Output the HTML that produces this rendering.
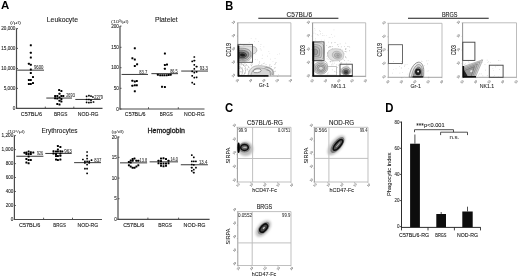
<!DOCTYPE html>
<html><head><meta charset="utf-8"><style>
html,body{margin:0;padding:0;background:#fff;width:520px;height:278px;overflow:hidden}
svg{display:block;font-family:"Liberation Sans", sans-serif;filter:grayscale(1)}
</style></head><body>
<svg width="520" height="278" viewBox="0 0 520 278">
<rect width="520" height="278" fill="#fff"/>
<defs>
<filter id="b0_35" x="-20%" y="-20%" width="140%" height="140%"><feGaussianBlur stdDeviation="0.35"/></filter>
<filter id="b0_4" x="-20%" y="-20%" width="140%" height="140%"><feGaussianBlur stdDeviation="0.4"/></filter>
<filter id="b0_45" x="-20%" y="-20%" width="140%" height="140%"><feGaussianBlur stdDeviation="0.45"/></filter>
<filter id="b0_7" x="-30%" y="-30%" width="160%" height="160%"><feGaussianBlur stdDeviation="0.7"/></filter>
<filter id="b0_6" x="-30%" y="-30%" width="160%" height="160%"><feGaussianBlur stdDeviation="0.6"/></filter>
<filter id="b0_9" x="-40%" y="-40%" width="180%" height="180%"><feGaussianBlur stdDeviation="0.9"/></filter>
<filter id="b1_0" x="-40%" y="-40%" width="180%" height="180%"><feGaussianBlur stdDeviation="1.0"/></filter>
</defs>
<text x="0.90" y="9.30" font-size="11.8" textLength="8.30" lengthAdjust="spacingAndGlyphs" font-weight="bold" fill="#000">A</text>
<text x="225.20" y="9.50" font-size="12.0" textLength="8.00" lengthAdjust="spacingAndGlyphs" font-weight="bold" fill="#000">B</text>
<text x="225.10" y="112.40" font-size="12.0" textLength="8.20" lengthAdjust="spacingAndGlyphs" font-weight="bold" fill="#000">C</text>
<text x="385.20" y="112.40" font-size="12.0" textLength="8.20" lengthAdjust="spacingAndGlyphs" font-weight="bold" fill="#000">D</text>
<line x1="16.50" y1="28.40" x2="16.50" y2="108.90" stroke="#4a4a4a" stroke-width="1.2" />
<line x1="16.00" y1="108.40" x2="102.50" y2="108.40" stroke="#4a4a4a" stroke-width="1.2" />
<line x1="45.30" y1="106.60" x2="45.30" y2="108.40" stroke="#4a4a4a" stroke-width="0.9" />
<line x1="73.80" y1="106.60" x2="73.80" y2="108.40" stroke="#4a4a4a" stroke-width="0.9" />
<line x1="16.50" y1="28.60" x2="18.00" y2="28.60" stroke="#4a4a4a" stroke-width="0.9" />
<text x="15.40" y="30.20" font-size="4.6" stroke="#2a2a2a" stroke-width="0.1" text-anchor="end" textLength="14.10" lengthAdjust="spacingAndGlyphs" fill="#2a2a2a">20,000</text>
<line x1="16.50" y1="48.40" x2="18.00" y2="48.40" stroke="#4a4a4a" stroke-width="0.9" />
<text x="15.40" y="50.00" font-size="4.6" stroke="#2a2a2a" stroke-width="0.1" text-anchor="end" textLength="14.10" lengthAdjust="spacingAndGlyphs" fill="#2a2a2a">15,000</text>
<line x1="16.50" y1="68.50" x2="18.00" y2="68.50" stroke="#4a4a4a" stroke-width="0.9" />
<text x="15.40" y="70.10" font-size="4.6" stroke="#2a2a2a" stroke-width="0.1" text-anchor="end" textLength="14.10" lengthAdjust="spacingAndGlyphs" fill="#2a2a2a">10,000</text>
<line x1="16.50" y1="88.40" x2="18.00" y2="88.40" stroke="#4a4a4a" stroke-width="0.9" />
<text x="15.40" y="90.00" font-size="4.6" stroke="#2a2a2a" stroke-width="0.1" text-anchor="end" textLength="11.75" lengthAdjust="spacingAndGlyphs" fill="#2a2a2a">5,000</text>
<line x1="16.50" y1="108.40" x2="18.00" y2="108.40" stroke="#4a4a4a" stroke-width="0.9" />
<text x="15.40" y="110.00" font-size="4.6" stroke="#2a2a2a" stroke-width="0.1" text-anchor="end" fill="#2a2a2a">0</text>
<text x="10.00" y="23.70" font-size="4.4" stroke="#444" stroke-width="0.05" textLength="11.00" lengthAdjust="spacingAndGlyphs" fill="#444">(/μl)</text>
<text x="46.80" y="22.00" font-size="7.2" stroke="#1a1a1a" stroke-width="0.1" textLength="31.20" lengthAdjust="spacingAndGlyphs" fill="#1a1a1a">Leukocyte</text>
<text x="20.80" y="115.90" font-size="6.1" stroke="#1a1a1a" stroke-width="0.12" textLength="21.20" lengthAdjust="spacingAndGlyphs" fill="#1a1a1a">C57BL/6</text>
<text x="53.90" y="115.90" font-size="6.1" stroke="#1a1a1a" stroke-width="0.12" textLength="13.40" lengthAdjust="spacingAndGlyphs" fill="#1a1a1a">BRGS</text>
<text x="77.80" y="115.90" font-size="6.1" stroke="#1a1a1a" stroke-width="0.12" textLength="20.80" lengthAdjust="spacingAndGlyphs" fill="#1a1a1a">NOD-RG</text>
<line x1="17.20" y1="70.15" x2="44.00" y2="70.15" stroke="#151515" stroke-width="0.85" />
<text x="33.90" y="69.30" font-size="4.6" stroke="#333" stroke-width="0.08" textLength="9.50" lengthAdjust="spacingAndGlyphs" fill="#333">9600</text>
<line x1="46.30" y1="98.05" x2="72.00" y2="98.05" stroke="#151515" stroke-width="0.85" />
<text x="66.20" y="97.20" font-size="4.6" stroke="#333" stroke-width="0.08" textLength="8.60" lengthAdjust="spacingAndGlyphs" fill="#333">2693</text>
<line x1="75.30" y1="99.45" x2="100.80" y2="99.45" stroke="#151515" stroke-width="0.85" />
<text x="94.20" y="98.60" font-size="4.6" stroke="#333" stroke-width="0.08" textLength="8.80" lengthAdjust="spacingAndGlyphs" fill="#333">2279</text>
<rect x="29.80" y="44.30" width="2.00" height="2.00" rx="0.50" fill="#000"/>
<rect x="29.80" y="51.80" width="2.00" height="2.00" rx="0.50" fill="#000"/>
<rect x="29.80" y="56.60" width="2.00" height="2.00" rx="0.50" fill="#000"/>
<rect x="27.90" y="62.80" width="2.00" height="2.00" rx="0.50" fill="#000"/>
<rect x="29.80" y="63.80" width="2.00" height="2.00" rx="0.50" fill="#000"/>
<rect x="29.80" y="68.60" width="2.00" height="2.00" rx="0.50" fill="#000"/>
<rect x="29.80" y="72.10" width="2.00" height="2.00" rx="0.50" fill="#000"/>
<rect x="32.00" y="76.10" width="2.00" height="2.00" rx="0.50" fill="#000"/>
<rect x="27.90" y="78.90" width="2.00" height="2.00" rx="0.50" fill="#000"/>
<rect x="29.80" y="78.90" width="2.00" height="2.00" rx="0.50" fill="#000"/>
<rect x="27.90" y="82.90" width="2.00" height="2.00" rx="0.50" fill="#000"/>
<rect x="29.80" y="82.90" width="2.00" height="2.00" rx="0.50" fill="#000"/>
<rect x="32.00" y="82.10" width="2.00" height="2.00" rx="0.50" fill="#000"/>
<rect x="58.10" y="89.00" width="2.00" height="2.00" rx="0.50" fill="#000"/>
<rect x="60.40" y="90.00" width="2.00" height="2.00" rx="0.50" fill="#000"/>
<rect x="58.50" y="92.80" width="2.00" height="2.00" rx="0.50" fill="#000"/>
<rect x="54.10" y="95.10" width="2.00" height="2.00" rx="0.50" fill="#000"/>
<rect x="56.30" y="95.10" width="2.00" height="2.00" rx="0.50" fill="#000"/>
<rect x="60.40" y="95.10" width="2.00" height="2.00" rx="0.50" fill="#000"/>
<rect x="62.30" y="95.10" width="2.00" height="2.00" rx="0.50" fill="#000"/>
<rect x="54.10" y="97.20" width="2.00" height="2.00" rx="0.50" fill="#000"/>
<rect x="56.30" y="97.60" width="2.00" height="2.00" rx="0.50" fill="#000"/>
<rect x="58.50" y="96.60" width="2.00" height="2.00" rx="0.50" fill="#000"/>
<rect x="60.40" y="98.10" width="2.00" height="2.00" rx="0.50" fill="#000"/>
<rect x="58.50" y="99.70" width="2.00" height="2.00" rx="0.50" fill="#000"/>
<rect x="60.40" y="100.40" width="2.00" height="2.00" rx="0.50" fill="#000"/>
<rect x="56.30" y="102.90" width="2.00" height="2.00" rx="0.50" fill="#000"/>
<rect x="58.50" y="103.50" width="2.00" height="2.00" rx="0.50" fill="#000"/>
<rect x="85.75" y="95.45" width="1.70" height="1.70" rx="0.42" fill="#000"/>
<rect x="88.05" y="94.85" width="1.70" height="1.70" rx="0.42" fill="#000"/>
<rect x="90.15" y="95.25" width="1.70" height="1.70" rx="0.42" fill="#000"/>
<rect x="92.05" y="96.15" width="1.70" height="1.70" rx="0.42" fill="#000"/>
<rect x="85.75" y="98.65" width="1.70" height="1.70" rx="0.42" fill="#000"/>
<rect x="88.05" y="98.65" width="1.70" height="1.70" rx="0.42" fill="#000"/>
<rect x="90.15" y="99.25" width="1.70" height="1.70" rx="0.42" fill="#000"/>
<rect x="85.75" y="101.55" width="1.70" height="1.70" rx="0.42" fill="#000"/>
<rect x="88.05" y="101.75" width="1.70" height="1.70" rx="0.42" fill="#000"/>
<rect x="90.15" y="101.55" width="1.70" height="1.70" rx="0.42" fill="#000"/>
<rect x="92.65" y="101.15" width="1.70" height="1.70" rx="0.42" fill="#000"/>
<line x1="120.00" y1="25.90" x2="120.00" y2="109.50" stroke="#4a4a4a" stroke-width="1.2" />
<line x1="119.50" y1="109.00" x2="204.50" y2="109.00" stroke="#4a4a4a" stroke-width="1.2" />
<line x1="148.50" y1="107.20" x2="148.50" y2="109.00" stroke="#4a4a4a" stroke-width="0.9" />
<line x1="178.30" y1="107.20" x2="178.30" y2="109.00" stroke="#4a4a4a" stroke-width="0.9" />
<line x1="120.00" y1="26.10" x2="121.50" y2="26.10" stroke="#4a4a4a" stroke-width="0.9" />
<text x="118.90" y="27.70" font-size="4.6" stroke="#2a2a2a" stroke-width="0.1" text-anchor="end" fill="#2a2a2a">200</text>
<line x1="120.00" y1="47.30" x2="121.50" y2="47.30" stroke="#4a4a4a" stroke-width="0.9" />
<text x="118.90" y="48.90" font-size="4.6" stroke="#2a2a2a" stroke-width="0.1" text-anchor="end" fill="#2a2a2a">150</text>
<line x1="120.00" y1="67.70" x2="121.50" y2="67.70" stroke="#4a4a4a" stroke-width="0.9" />
<text x="118.90" y="69.30" font-size="4.6" stroke="#2a2a2a" stroke-width="0.1" text-anchor="end" fill="#2a2a2a">100</text>
<line x1="120.00" y1="88.30" x2="121.50" y2="88.30" stroke="#4a4a4a" stroke-width="0.9" />
<text x="118.90" y="89.90" font-size="4.6" stroke="#2a2a2a" stroke-width="0.1" text-anchor="end" fill="#2a2a2a">50</text>
<line x1="120.00" y1="109.00" x2="121.50" y2="109.00" stroke="#4a4a4a" stroke-width="0.9" />
<text x="118.90" y="110.60" font-size="4.6" stroke="#2a2a2a" stroke-width="0.1" text-anchor="end" fill="#2a2a2a">0</text>
<text x="111.10" y="22.80" font-size="4.4" stroke="#444" stroke-width="0.05" textLength="17.40" lengthAdjust="spacingAndGlyphs" fill="#444">(10³/μl)</text>
<text x="155.00" y="22.00" font-size="7.2" stroke="#1a1a1a" stroke-width="0.1" textLength="22.60" lengthAdjust="spacingAndGlyphs" fill="#1a1a1a">Platelet</text>
<text x="124.80" y="115.90" font-size="6.1" stroke="#1a1a1a" stroke-width="0.12" textLength="20.80" lengthAdjust="spacingAndGlyphs" fill="#1a1a1a">C57BL/6</text>
<text x="159.80" y="115.90" font-size="6.1" stroke="#1a1a1a" stroke-width="0.12" textLength="13.00" lengthAdjust="spacingAndGlyphs" fill="#1a1a1a">BRGS</text>
<text x="184.00" y="115.90" font-size="6.1" stroke="#1a1a1a" stroke-width="0.12" textLength="20.80" lengthAdjust="spacingAndGlyphs" fill="#1a1a1a">NOD-RG</text>
<line x1="121.60" y1="74.45" x2="148.00" y2="74.45" stroke="#151515" stroke-width="0.85" />
<text x="139.20" y="73.60" font-size="4.6" stroke="#333" stroke-width="0.08" textLength="8.00" lengthAdjust="spacingAndGlyphs" fill="#333">83.7</text>
<line x1="151.40" y1="73.65" x2="178.00" y2="73.65" stroke="#151515" stroke-width="0.85" />
<text x="170.20" y="72.80" font-size="4.6" stroke="#333" stroke-width="0.08" textLength="7.50" lengthAdjust="spacingAndGlyphs" fill="#333">86.5</text>
<line x1="181.20" y1="71.05" x2="208.00" y2="71.05" stroke="#151515" stroke-width="0.85" />
<text x="199.70" y="70.20" font-size="4.6" stroke="#333" stroke-width="0.08" textLength="8.30" lengthAdjust="spacingAndGlyphs" fill="#333">93.3</text>
<rect x="133.80" y="47.20" width="2.00" height="2.00" rx="0.50" fill="#000"/>
<rect x="131.40" y="57.30" width="2.00" height="2.00" rx="0.50" fill="#000"/>
<rect x="133.80" y="58.50" width="2.00" height="2.00" rx="0.50" fill="#000"/>
<rect x="136.10" y="63.20" width="2.00" height="2.00" rx="0.50" fill="#000"/>
<rect x="133.80" y="65.10" width="2.00" height="2.00" rx="0.50" fill="#000"/>
<rect x="131.40" y="79.70" width="2.00" height="2.00" rx="0.50" fill="#000"/>
<rect x="133.80" y="80.40" width="2.00" height="2.00" rx="0.50" fill="#000"/>
<rect x="135.80" y="80.10" width="2.00" height="2.00" rx="0.50" fill="#000"/>
<rect x="131.40" y="84.80" width="2.00" height="2.00" rx="0.50" fill="#000"/>
<rect x="133.80" y="84.20" width="2.00" height="2.00" rx="0.50" fill="#000"/>
<rect x="135.80" y="84.20" width="2.00" height="2.00" rx="0.50" fill="#000"/>
<rect x="133.80" y="90.20" width="2.00" height="2.00" rx="0.50" fill="#000"/>
<rect x="163.90" y="52.60" width="2.00" height="2.00" rx="0.50" fill="#000"/>
<rect x="163.90" y="63.90" width="2.00" height="2.00" rx="0.50" fill="#000"/>
<rect x="166.00" y="63.50" width="2.00" height="2.00" rx="0.50" fill="#000"/>
<rect x="163.90" y="67.70" width="2.00" height="2.00" rx="0.50" fill="#000"/>
<rect x="156.90" y="73.80" width="2.00" height="2.00" rx="0.50" fill="#000"/>
<rect x="159.20" y="74.30" width="2.00" height="2.00" rx="0.50" fill="#000"/>
<rect x="161.30" y="74.20" width="2.00" height="2.00" rx="0.50" fill="#000"/>
<rect x="163.40" y="74.20" width="2.00" height="2.00" rx="0.50" fill="#000"/>
<rect x="165.60" y="74.20" width="2.00" height="2.00" rx="0.50" fill="#000"/>
<rect x="167.60" y="74.00" width="2.00" height="2.00" rx="0.50" fill="#000"/>
<rect x="169.60" y="73.80" width="2.00" height="2.00" rx="0.50" fill="#000"/>
<rect x="161.00" y="85.80" width="2.00" height="2.00" rx="0.50" fill="#000"/>
<rect x="163.90" y="86.00" width="2.00" height="2.00" rx="0.50" fill="#000"/>
<rect x="193.45" y="56.15" width="1.70" height="1.70" rx="0.42" fill="#000"/>
<rect x="191.35" y="60.55" width="1.70" height="1.70" rx="0.42" fill="#000"/>
<rect x="193.45" y="59.85" width="1.70" height="1.70" rx="0.42" fill="#000"/>
<rect x="193.45" y="64.05" width="1.70" height="1.70" rx="0.42" fill="#000"/>
<rect x="195.75" y="65.85" width="1.70" height="1.70" rx="0.42" fill="#000"/>
<rect x="193.45" y="68.05" width="1.70" height="1.70" rx="0.42" fill="#000"/>
<rect x="191.35" y="70.45" width="1.70" height="1.70" rx="0.42" fill="#000"/>
<rect x="195.75" y="70.95" width="1.70" height="1.70" rx="0.42" fill="#000"/>
<rect x="193.45" y="71.75" width="1.70" height="1.70" rx="0.42" fill="#000"/>
<rect x="191.35" y="74.95" width="1.70" height="1.70" rx="0.42" fill="#000"/>
<rect x="193.45" y="76.75" width="1.70" height="1.70" rx="0.42" fill="#000"/>
<rect x="195.75" y="76.45" width="1.70" height="1.70" rx="0.42" fill="#000"/>
<rect x="191.35" y="81.75" width="1.70" height="1.70" rx="0.42" fill="#000"/>
<rect x="193.45" y="83.25" width="1.70" height="1.70" rx="0.42" fill="#000"/>
<line x1="14.40" y1="135.40" x2="14.40" y2="220.00" stroke="#4a4a4a" stroke-width="1.2" />
<line x1="13.90" y1="219.50" x2="102.00" y2="219.50" stroke="#4a4a4a" stroke-width="1.2" />
<line x1="43.60" y1="217.70" x2="43.60" y2="219.50" stroke="#4a4a4a" stroke-width="0.9" />
<line x1="72.50" y1="217.70" x2="72.50" y2="219.50" stroke="#4a4a4a" stroke-width="0.9" />
<line x1="14.40" y1="135.60" x2="15.90" y2="135.60" stroke="#4a4a4a" stroke-width="0.9" />
<text x="13.30" y="137.20" font-size="4.6" stroke="#2a2a2a" stroke-width="0.1" text-anchor="end" textLength="11.75" lengthAdjust="spacingAndGlyphs" fill="#2a2a2a">1,200</text>
<line x1="14.40" y1="149.60" x2="15.90" y2="149.60" stroke="#4a4a4a" stroke-width="0.9" />
<text x="13.30" y="151.20" font-size="4.6" stroke="#2a2a2a" stroke-width="0.1" text-anchor="end" textLength="11.75" lengthAdjust="spacingAndGlyphs" fill="#2a2a2a">1,000</text>
<line x1="14.40" y1="163.60" x2="15.90" y2="163.60" stroke="#4a4a4a" stroke-width="0.9" />
<text x="13.30" y="165.20" font-size="4.6" stroke="#2a2a2a" stroke-width="0.1" text-anchor="end" fill="#2a2a2a">800</text>
<line x1="14.40" y1="177.50" x2="15.90" y2="177.50" stroke="#4a4a4a" stroke-width="0.9" />
<text x="13.30" y="179.10" font-size="4.6" stroke="#2a2a2a" stroke-width="0.1" text-anchor="end" fill="#2a2a2a">600</text>
<line x1="14.40" y1="191.50" x2="15.90" y2="191.50" stroke="#4a4a4a" stroke-width="0.9" />
<text x="13.30" y="193.10" font-size="4.6" stroke="#2a2a2a" stroke-width="0.1" text-anchor="end" fill="#2a2a2a">400</text>
<line x1="14.40" y1="205.50" x2="15.90" y2="205.50" stroke="#4a4a4a" stroke-width="0.9" />
<text x="13.30" y="207.10" font-size="4.6" stroke="#2a2a2a" stroke-width="0.1" text-anchor="end" fill="#2a2a2a">200</text>
<line x1="14.40" y1="219.50" x2="15.90" y2="219.50" stroke="#4a4a4a" stroke-width="0.9" />
<text x="13.30" y="221.10" font-size="4.6" stroke="#2a2a2a" stroke-width="0.1" text-anchor="end" fill="#2a2a2a">0</text>
<text x="7.60" y="132.60" font-size="4.4" stroke="#444" stroke-width="0.05" textLength="17.10" lengthAdjust="spacingAndGlyphs" fill="#444">(10⁶/μl)</text>
<text x="41.50" y="133.40" font-size="7.2" stroke="#1a1a1a" stroke-width="0.1" textLength="36.10" lengthAdjust="spacingAndGlyphs" fill="#1a1a1a">Erythrocytes</text>
<text x="19.00" y="226.70" font-size="6.1" stroke="#1a1a1a" stroke-width="0.12" textLength="21.30" lengthAdjust="spacingAndGlyphs" fill="#1a1a1a">C57BL/6</text>
<text x="53.30" y="226.70" font-size="6.1" stroke="#1a1a1a" stroke-width="0.12" textLength="12.60" lengthAdjust="spacingAndGlyphs" fill="#1a1a1a">BRGS</text>
<text x="77.50" y="226.70" font-size="6.1" stroke="#1a1a1a" stroke-width="0.12" textLength="20.70" lengthAdjust="spacingAndGlyphs" fill="#1a1a1a">NOD-RG</text>
<line x1="16.30" y1="156.25" x2="43.40" y2="156.25" stroke="#151515" stroke-width="0.85" />
<text x="37.00" y="155.40" font-size="4.6" stroke="#333" stroke-width="0.08" textLength="6.00" lengthAdjust="spacingAndGlyphs" fill="#333">926</text>
<line x1="45.30" y1="153.45" x2="71.70" y2="153.45" stroke="#151515" stroke-width="0.85" />
<text x="64.20" y="152.60" font-size="4.6" stroke="#333" stroke-width="0.08" textLength="7.50" lengthAdjust="spacingAndGlyphs" fill="#333">963</text>
<line x1="74.10" y1="162.65" x2="101.00" y2="162.65" stroke="#151515" stroke-width="0.85" />
<text x="94.30" y="161.80" font-size="4.6" stroke="#333" stroke-width="0.08" textLength="7.00" lengthAdjust="spacingAndGlyphs" fill="#333">837</text>
<rect x="23.50" y="151.80" width="2.00" height="2.00" rx="0.50" fill="#000"/>
<rect x="25.40" y="151.60" width="2.00" height="2.00" rx="0.50" fill="#000"/>
<rect x="27.60" y="150.60" width="2.00" height="2.00" rx="0.50" fill="#000"/>
<rect x="29.80" y="151.30" width="2.00" height="2.00" rx="0.50" fill="#000"/>
<rect x="32.30" y="151.60" width="2.00" height="2.00" rx="0.50" fill="#000"/>
<rect x="25.40" y="153.10" width="2.00" height="2.00" rx="0.50" fill="#000"/>
<rect x="27.60" y="153.10" width="2.00" height="2.00" rx="0.50" fill="#000"/>
<rect x="29.80" y="153.10" width="2.00" height="2.00" rx="0.50" fill="#000"/>
<rect x="27.60" y="155.40" width="2.00" height="2.00" rx="0.50" fill="#000"/>
<rect x="25.40" y="158.10" width="2.00" height="2.00" rx="0.50" fill="#000"/>
<rect x="27.60" y="158.90" width="2.00" height="2.00" rx="0.50" fill="#000"/>
<rect x="29.80" y="158.90" width="2.00" height="2.00" rx="0.50" fill="#000"/>
<rect x="25.40" y="161.40" width="2.00" height="2.00" rx="0.50" fill="#000"/>
<rect x="27.60" y="162.30" width="2.00" height="2.00" rx="0.50" fill="#000"/>
<rect x="56.90" y="145.00" width="2.00" height="2.00" rx="0.50" fill="#000"/>
<rect x="59.40" y="145.90" width="2.00" height="2.00" rx="0.50" fill="#000"/>
<rect x="56.90" y="148.40" width="2.00" height="2.00" rx="0.50" fill="#000"/>
<rect x="52.50" y="150.30" width="2.00" height="2.00" rx="0.50" fill="#000"/>
<rect x="55.00" y="150.60" width="2.00" height="2.00" rx="0.50" fill="#000"/>
<rect x="56.90" y="150.60" width="2.00" height="2.00" rx="0.50" fill="#000"/>
<rect x="59.40" y="150.30" width="2.00" height="2.00" rx="0.50" fill="#000"/>
<rect x="61.30" y="150.60" width="2.00" height="2.00" rx="0.50" fill="#000"/>
<rect x="52.50" y="152.60" width="2.00" height="2.00" rx="0.50" fill="#000"/>
<rect x="55.00" y="152.90" width="2.00" height="2.00" rx="0.50" fill="#000"/>
<rect x="59.40" y="152.60" width="2.00" height="2.00" rx="0.50" fill="#000"/>
<rect x="55.00" y="155.10" width="2.00" height="2.00" rx="0.50" fill="#000"/>
<rect x="56.90" y="155.10" width="2.00" height="2.00" rx="0.50" fill="#000"/>
<rect x="59.40" y="154.70" width="2.00" height="2.00" rx="0.50" fill="#000"/>
<rect x="55.00" y="158.50" width="2.00" height="2.00" rx="0.50" fill="#000"/>
<rect x="56.90" y="158.90" width="2.00" height="2.00" rx="0.50" fill="#000"/>
<rect x="59.40" y="158.50" width="2.00" height="2.00" rx="0.50" fill="#000"/>
<rect x="86.25" y="151.15" width="1.70" height="1.70" rx="0.42" fill="#000"/>
<rect x="86.25" y="154.85" width="1.70" height="1.70" rx="0.42" fill="#000"/>
<rect x="86.25" y="157.75" width="1.70" height="1.70" rx="0.42" fill="#000"/>
<rect x="82.05" y="158.65" width="1.70" height="1.70" rx="0.42" fill="#000"/>
<rect x="84.05" y="160.55" width="1.70" height="1.70" rx="0.42" fill="#000"/>
<rect x="86.25" y="160.55" width="1.70" height="1.70" rx="0.42" fill="#000"/>
<rect x="88.35" y="160.55" width="1.70" height="1.70" rx="0.42" fill="#000"/>
<rect x="90.65" y="159.35" width="1.70" height="1.70" rx="0.42" fill="#000"/>
<rect x="84.05" y="162.05" width="1.70" height="1.70" rx="0.42" fill="#000"/>
<rect x="88.35" y="162.05" width="1.70" height="1.70" rx="0.42" fill="#000"/>
<rect x="86.25" y="163.75" width="1.70" height="1.70" rx="0.42" fill="#000"/>
<rect x="84.05" y="167.85" width="1.70" height="1.70" rx="0.42" fill="#000"/>
<rect x="86.25" y="167.85" width="1.70" height="1.70" rx="0.42" fill="#000"/>
<rect x="86.25" y="172.55" width="1.70" height="1.70" rx="0.42" fill="#000"/>
<line x1="118.00" y1="136.60" x2="118.00" y2="219.90" stroke="#4a4a4a" stroke-width="1.2" />
<line x1="117.50" y1="219.40" x2="209.60" y2="219.40" stroke="#4a4a4a" stroke-width="1.2" />
<line x1="147.90" y1="217.60" x2="147.90" y2="219.40" stroke="#4a4a4a" stroke-width="0.9" />
<line x1="178.60" y1="217.60" x2="178.60" y2="219.40" stroke="#4a4a4a" stroke-width="0.9" />
<line x1="118.00" y1="137.00" x2="119.50" y2="137.00" stroke="#4a4a4a" stroke-width="0.9" />
<text x="116.90" y="138.60" font-size="4.6" stroke="#2a2a2a" stroke-width="0.1" text-anchor="end" fill="#2a2a2a">20</text>
<line x1="118.00" y1="157.40" x2="119.50" y2="157.40" stroke="#4a4a4a" stroke-width="0.9" />
<text x="116.90" y="159.00" font-size="4.6" stroke="#2a2a2a" stroke-width="0.1" text-anchor="end" fill="#2a2a2a">15</text>
<line x1="118.00" y1="178.10" x2="119.50" y2="178.10" stroke="#4a4a4a" stroke-width="0.9" />
<text x="116.90" y="179.70" font-size="4.6" stroke="#2a2a2a" stroke-width="0.1" text-anchor="end" fill="#2a2a2a">10</text>
<line x1="118.00" y1="198.70" x2="119.50" y2="198.70" stroke="#4a4a4a" stroke-width="0.9" />
<text x="116.90" y="200.30" font-size="4.6" stroke="#2a2a2a" stroke-width="0.1" text-anchor="end" fill="#2a2a2a">5</text>
<line x1="118.00" y1="219.40" x2="119.50" y2="219.40" stroke="#4a4a4a" stroke-width="0.9" />
<text x="116.90" y="221.00" font-size="4.6" stroke="#2a2a2a" stroke-width="0.1" text-anchor="end" fill="#2a2a2a">0</text>
<text x="111.50" y="132.80" font-size="4.4" stroke="#444" stroke-width="0.05" textLength="12.20" lengthAdjust="spacingAndGlyphs" fill="#444">(g/dl)</text>
<text x="147.40" y="133.20" font-size="7.2" stroke="#1a1a1a" stroke-width="0.3" textLength="37.60" lengthAdjust="spacingAndGlyphs" fill="#1a1a1a">Hemoglobin</text>
<text x="123.20" y="226.70" font-size="6.1" stroke="#1a1a1a" stroke-width="0.12" textLength="21.10" lengthAdjust="spacingAndGlyphs" fill="#1a1a1a">C57BL/6</text>
<text x="158.30" y="226.70" font-size="6.1" stroke="#1a1a1a" stroke-width="0.12" textLength="13.70" lengthAdjust="spacingAndGlyphs" fill="#1a1a1a">BRGS</text>
<text x="183.60" y="226.70" font-size="6.1" stroke="#1a1a1a" stroke-width="0.12" textLength="21.90" lengthAdjust="spacingAndGlyphs" fill="#1a1a1a">NOD-RG</text>
<line x1="120.00" y1="162.85" x2="147.10" y2="162.85" stroke="#151515" stroke-width="0.85" />
<text x="139.60" y="162.00" font-size="4.6" stroke="#333" stroke-width="0.08" textLength="7.50" lengthAdjust="spacingAndGlyphs" fill="#333">13.8</text>
<line x1="149.60" y1="161.85" x2="178.00" y2="161.85" stroke="#151515" stroke-width="0.85" />
<text x="170.40" y="161.00" font-size="4.6" stroke="#333" stroke-width="0.08" textLength="7.60" lengthAdjust="spacingAndGlyphs" fill="#333">14.0</text>
<line x1="180.80" y1="164.75" x2="207.90" y2="164.75" stroke="#151515" stroke-width="0.85" />
<text x="199.00" y="163.90" font-size="4.6" stroke="#333" stroke-width="0.08" textLength="8.30" lengthAdjust="spacingAndGlyphs" fill="#333">13.4</text>
<rect x="131.60" y="157.90" width="2.00" height="2.00" rx="0.50" fill="#000"/>
<rect x="133.50" y="157.60" width="2.00" height="2.00" rx="0.50" fill="#000"/>
<rect x="129.70" y="159.40" width="2.00" height="2.00" rx="0.50" fill="#000"/>
<rect x="131.60" y="159.70" width="2.00" height="2.00" rx="0.50" fill="#000"/>
<rect x="135.40" y="159.70" width="2.00" height="2.00" rx="0.50" fill="#000"/>
<rect x="137.30" y="159.70" width="2.00" height="2.00" rx="0.50" fill="#000"/>
<rect x="127.90" y="161.00" width="2.00" height="2.00" rx="0.50" fill="#000"/>
<rect x="129.70" y="161.40" width="2.00" height="2.00" rx="0.50" fill="#000"/>
<rect x="127.90" y="164.20" width="2.00" height="2.00" rx="0.50" fill="#000"/>
<rect x="129.70" y="165.40" width="2.00" height="2.00" rx="0.50" fill="#000"/>
<rect x="131.60" y="166.70" width="2.00" height="2.00" rx="0.50" fill="#000"/>
<rect x="133.50" y="166.70" width="2.00" height="2.00" rx="0.50" fill="#000"/>
<rect x="135.40" y="165.40" width="2.00" height="2.00" rx="0.50" fill="#000"/>
<rect x="137.30" y="164.20" width="2.00" height="2.00" rx="0.50" fill="#000"/>
<rect x="160.00" y="157.60" width="2.00" height="2.00" rx="0.50" fill="#000"/>
<rect x="162.50" y="157.20" width="2.00" height="2.00" rx="0.50" fill="#000"/>
<rect x="165.00" y="157.90" width="2.00" height="2.00" rx="0.50" fill="#000"/>
<rect x="157.50" y="159.70" width="2.00" height="2.00" rx="0.50" fill="#000"/>
<rect x="167.50" y="159.70" width="2.00" height="2.00" rx="0.50" fill="#000"/>
<rect x="160.00" y="160.00" width="2.00" height="2.00" rx="0.50" fill="#000"/>
<rect x="157.50" y="162.30" width="2.00" height="2.00" rx="0.50" fill="#000"/>
<rect x="160.00" y="162.50" width="2.00" height="2.00" rx="0.50" fill="#000"/>
<rect x="162.50" y="162.50" width="2.00" height="2.00" rx="0.50" fill="#000"/>
<rect x="165.00" y="162.50" width="2.00" height="2.00" rx="0.50" fill="#000"/>
<rect x="167.50" y="162.30" width="2.00" height="2.00" rx="0.50" fill="#000"/>
<rect x="160.00" y="164.80" width="2.00" height="2.00" rx="0.50" fill="#000"/>
<rect x="162.50" y="165.20" width="2.00" height="2.00" rx="0.50" fill="#000"/>
<rect x="165.00" y="164.80" width="2.00" height="2.00" rx="0.50" fill="#000"/>
<rect x="190.95" y="154.25" width="1.70" height="1.70" rx="0.42" fill="#000"/>
<rect x="192.95" y="156.45" width="1.70" height="1.70" rx="0.42" fill="#000"/>
<rect x="190.95" y="160.55" width="1.70" height="1.70" rx="0.42" fill="#000"/>
<rect x="192.95" y="160.55" width="1.70" height="1.70" rx="0.42" fill="#000"/>
<rect x="195.05" y="160.55" width="1.70" height="1.70" rx="0.42" fill="#000"/>
<rect x="190.95" y="163.65" width="1.70" height="1.70" rx="0.42" fill="#000"/>
<rect x="192.95" y="164.05" width="1.70" height="1.70" rx="0.42" fill="#000"/>
<rect x="190.95" y="166.85" width="1.70" height="1.70" rx="0.42" fill="#000"/>
<rect x="195.05" y="166.85" width="1.70" height="1.70" rx="0.42" fill="#000"/>
<rect x="192.95" y="168.75" width="1.70" height="1.70" rx="0.42" fill="#000"/>
<rect x="190.95" y="169.95" width="1.70" height="1.70" rx="0.42" fill="#000"/>
<rect x="192.95" y="171.85" width="1.70" height="1.70" rx="0.42" fill="#000"/>
<text x="286.60" y="16.80" font-size="7.2" stroke="#1a1a1a" stroke-width="0.1" textLength="25.50" lengthAdjust="spacingAndGlyphs" fill="#1a1a1a">C57BL/6</text>
<line x1="258.30" y1="18.20" x2="338.40" y2="18.20" stroke="#1a1a1a" stroke-width="1.15" />
<text x="441.90" y="16.80" font-size="7.2" stroke="#1a1a1a" stroke-width="0.1" textLength="15.60" lengthAdjust="spacingAndGlyphs" fill="#1a1a1a">BRGS</text>
<line x1="408.00" y1="18.20" x2="488.70" y2="18.20" stroke="#1a1a1a" stroke-width="1.15" />
<line x1="237.80" y1="22.80" x2="290.90" y2="22.80" stroke="#b5b5b5" stroke-width="0.9" />
<line x1="290.90" y1="22.80" x2="290.90" y2="76.00" stroke="#b5b5b5" stroke-width="0.9" />
<line x1="237.80" y1="22.80" x2="237.80" y2="76.00" stroke="#888" stroke-width="0.9" />
<line x1="237.80" y1="76.00" x2="290.90" y2="76.00" stroke="#888" stroke-width="0.9" />
<text x="233.10" y="24.20" font-size="3.0" stroke="#777" stroke-width="0.1" fill="#777" transform="rotate(-50 233.10 24.20)">10</text>
<text x="237.00" y="82.50" font-size="3.0" stroke="#777" stroke-width="0.1" fill="#777" transform="rotate(-50 237.00 82.50)">10</text>
<line x1="236.90" y1="22.80" x2="237.80" y2="22.80" stroke="#999" stroke-width="0.6" />
<line x1="237.80" y1="76.00" x2="237.80" y2="76.90" stroke="#999" stroke-width="0.6" />
<text x="233.10" y="37.50" font-size="3.0" stroke="#777" stroke-width="0.1" fill="#777" transform="rotate(-50 233.10 37.50)">10</text>
<text x="250.27" y="82.50" font-size="3.0" stroke="#777" stroke-width="0.1" fill="#777" transform="rotate(-50 250.27 82.50)">10</text>
<line x1="236.90" y1="36.10" x2="237.80" y2="36.10" stroke="#999" stroke-width="0.6" />
<line x1="251.07" y1="76.00" x2="251.07" y2="76.90" stroke="#999" stroke-width="0.6" />
<text x="233.10" y="50.80" font-size="3.0" stroke="#777" stroke-width="0.1" fill="#777" transform="rotate(-50 233.10 50.80)">10</text>
<text x="263.55" y="82.50" font-size="3.0" stroke="#777" stroke-width="0.1" fill="#777" transform="rotate(-50 263.55 82.50)">10</text>
<line x1="236.90" y1="49.40" x2="237.80" y2="49.40" stroke="#999" stroke-width="0.6" />
<line x1="264.35" y1="76.00" x2="264.35" y2="76.90" stroke="#999" stroke-width="0.6" />
<text x="233.10" y="64.10" font-size="3.0" stroke="#777" stroke-width="0.1" fill="#777" transform="rotate(-50 233.10 64.10)">10</text>
<text x="276.82" y="82.50" font-size="3.0" stroke="#777" stroke-width="0.1" fill="#777" transform="rotate(-50 276.82 82.50)">10</text>
<line x1="236.90" y1="62.70" x2="237.80" y2="62.70" stroke="#999" stroke-width="0.6" />
<line x1="277.62" y1="76.00" x2="277.62" y2="76.90" stroke="#999" stroke-width="0.6" />
<text x="233.10" y="77.40" font-size="3.0" stroke="#777" stroke-width="0.1" fill="#777" transform="rotate(-50 233.10 77.40)">10</text>
<text x="290.10" y="82.50" font-size="3.0" stroke="#777" stroke-width="0.1" fill="#777" transform="rotate(-50 290.10 82.50)">10</text>
<line x1="236.90" y1="76.00" x2="237.80" y2="76.00" stroke="#999" stroke-width="0.6" />
<line x1="290.90" y1="76.00" x2="290.90" y2="76.90" stroke="#999" stroke-width="0.6" />
<path d="M250.6,64.0h0.70v0.70h-0.70zM262.9,63.0h0.70v0.70h-0.70zM258.6,66.9h0.70v0.70h-0.70zM240.7,68.9h0.70v0.70h-0.70zM239.9,67.9h0.70v0.70h-0.70zM241.1,63.2h0.70v0.70h-0.70zM254.4,73.2h0.70v0.70h-0.70zM243.1,65.0h0.70v0.70h-0.70zM262.0,74.8h0.70v0.70h-0.70zM260.1,67.4h0.70v0.70h-0.70zM275.1,62.6h0.70v0.70h-0.70zM270.7,65.9h0.70v0.70h-0.70zM243.9,63.6h0.70v0.70h-0.70zM250.1,73.0h0.70v0.70h-0.70zM245.3,69.9h0.70v0.70h-0.70zM262.5,67.0h0.70v0.70h-0.70zM259.0,62.8h0.70v0.70h-0.70zM240.7,64.8h0.70v0.70h-0.70zM264.0,67.8h0.70v0.70h-0.70zM250.3,69.9h0.70v0.70h-0.70zM255.5,66.0h0.70v0.70h-0.70zM268.3,71.4h0.70v0.70h-0.70zM247.7,69.8h0.70v0.70h-0.70zM258.2,73.8h0.70v0.70h-0.70zM265.9,65.9h0.70v0.70h-0.70zM275.3,63.6h0.70v0.70h-0.70zM254.2,72.2h0.70v0.70h-0.70zM244.2,68.6h0.70v0.70h-0.70zM240.0,71.0h0.70v0.70h-0.70zM267.2,69.7h0.70v0.70h-0.70zM271.3,66.2h0.70v0.70h-0.70zM264.6,70.0h0.70v0.70h-0.70zM260.2,68.2h0.70v0.70h-0.70zM270.0,74.8h0.70v0.70h-0.70zM256.3,71.0h0.70v0.70h-0.70zM240.8,71.5h0.70v0.70h-0.70zM262.8,75.4h0.70v0.70h-0.70zM269.3,65.8h0.70v0.70h-0.70zM253.0,71.0h0.70v0.70h-0.70zM239.3,68.2h0.70v0.70h-0.70zM244.8,63.6h0.70v0.70h-0.70zM240.7,72.4h0.70v0.70h-0.70zM243.4,65.3h0.70v0.70h-0.70zM253.2,73.8h0.70v0.70h-0.70zM241.5,68.1h0.70v0.70h-0.70zM259.1,73.9h0.70v0.70h-0.70zM269.2,73.7h0.70v0.70h-0.70zM248.9,67.6h0.70v0.70h-0.70zM252.0,73.9h0.70v0.70h-0.70zM274.4,64.0h0.70v0.70h-0.70zM245.1,65.1h0.70v0.70h-0.70zM247.3,68.5h0.70v0.70h-0.70zM260.6,65.5h0.70v0.70h-0.70zM238.7,67.7h0.70v0.70h-0.70zM252.3,69.6h0.70v0.70h-0.70zM274.2,71.3h0.70v0.70h-0.70zM257.8,70.3h0.70v0.70h-0.70zM263.9,62.7h0.70v0.70h-0.70zM272.2,72.5h0.70v0.70h-0.70zM271.3,72.8h0.70v0.70h-0.70zM253.2,67.4h0.70v0.70h-0.70zM242.4,70.6h0.70v0.70h-0.70zM240.8,62.9h0.70v0.70h-0.70zM246.3,64.2h0.70v0.70h-0.70zM251.3,62.7h0.70v0.70h-0.70zM238.5,64.0h0.70v0.70h-0.70zM242.3,66.9h0.70v0.70h-0.70zM239.5,73.8h0.70v0.70h-0.70zM261.5,64.0h0.70v0.70h-0.70zM248.0,66.7h0.70v0.70h-0.70zM252.2,63.7h0.70v0.70h-0.70zM270.3,75.4h0.70v0.70h-0.70zM256.0,68.5h0.70v0.70h-0.70zM241.7,63.4h0.70v0.70h-0.70zM251.3,65.6h0.70v0.70h-0.70zM269.6,64.2h0.70v0.70h-0.70zM239.4,74.8h0.70v0.70h-0.70zM258.3,64.0h0.70v0.70h-0.70zM258.9,62.4h0.70v0.70h-0.70zM258.3,75.2h0.70v0.70h-0.70zM270.9,71.4h0.70v0.70h-0.70zM248.3,67.0h0.70v0.70h-0.70zM244.8,72.4h0.70v0.70h-0.70zM258.5,72.5h0.70v0.70h-0.70zM250.9,65.0h0.70v0.70h-0.70zM268.9,75.3h0.70v0.70h-0.70zM270.5,72.9h0.70v0.70h-0.70zM269.2,72.0h0.70v0.70h-0.70zM247.0,69.0h0.70v0.70h-0.70zM251.8,62.4h0.70v0.70h-0.70zM239.5,65.8h0.70v0.70h-0.70zM248.2,71.3h0.70v0.70h-0.70zM274.4,68.0h0.70v0.70h-0.70zM273.6,75.3h0.70v0.70h-0.70zM274.3,66.9h0.70v0.70h-0.70zM246.8,65.1h0.70v0.70h-0.70zM245.9,64.8h0.70v0.70h-0.70zM261.9,74.2h0.70v0.70h-0.70zM270.0,68.5h0.70v0.70h-0.70zM263.0,72.8h0.70v0.70h-0.70zM241.7,70.9h0.70v0.70h-0.70zM272.6,72.6h0.70v0.70h-0.70zM266.6,68.5h0.70v0.70h-0.70zM245.2,72.7h0.70v0.70h-0.70zM251.0,72.8h0.70v0.70h-0.70zM274.9,67.3h0.70v0.70h-0.70zM253.6,74.8h0.70v0.70h-0.70zM265.7,64.3h0.70v0.70h-0.70zM243.3,64.0h0.70v0.70h-0.70zM272.4,72.9h0.70v0.70h-0.70zM244.0,73.2h0.70v0.70h-0.70zM275.3,70.9h0.70v0.70h-0.70zM251.6,69.4h0.70v0.70h-0.70zM243.4,62.2h0.70v0.70h-0.70zM274.9,70.8h0.70v0.70h-0.70zM258.2,74.6h0.70v0.70h-0.70zM254.8,73.8h0.70v0.70h-0.70zM269.5,64.8h0.70v0.70h-0.70zM247.9,66.0h0.70v0.70h-0.70zM247.5,69.9h0.70v0.70h-0.70z" fill="#bcbcbc"/>
<path d="M244.6,48.1h0.70v0.70h-0.70zM241.6,59.8h0.70v0.70h-0.70zM246.8,49.0h0.70v0.70h-0.70zM252.2,59.7h0.70v0.70h-0.70zM248.4,60.0h0.70v0.70h-0.70zM250.3,50.8h0.70v0.70h-0.70zM250.8,38.4h0.70v0.70h-0.70zM248.8,42.4h0.70v0.70h-0.70zM238.6,57.2h0.70v0.70h-0.70zM242.6,49.4h0.70v0.70h-0.70zM255.5,51.4h0.70v0.70h-0.70zM246.2,50.4h0.70v0.70h-0.70zM251.6,56.8h0.70v0.70h-0.70zM241.0,51.4h0.70v0.70h-0.70zM244.3,44.6h0.70v0.70h-0.70zM256.6,50.2h0.70v0.70h-0.70zM251.7,56.2h0.70v0.70h-0.70zM259.9,48.6h0.70v0.70h-0.70zM252.9,50.1h0.70v0.70h-0.70zM250.5,54.6h0.70v0.70h-0.70zM249.1,50.8h0.70v0.70h-0.70zM249.7,60.6h0.70v0.70h-0.70zM254.9,59.0h0.70v0.70h-0.70zM260.6,44.2h0.70v0.70h-0.70zM251.6,60.6h0.70v0.70h-0.70zM258.2,41.3h0.70v0.70h-0.70zM241.4,48.6h0.70v0.70h-0.70zM240.2,43.8h0.70v0.70h-0.70zM240.2,54.1h0.70v0.70h-0.70zM256.9,59.5h0.70v0.70h-0.70zM242.1,55.2h0.70v0.70h-0.70zM254.0,41.4h0.70v0.70h-0.70zM259.2,61.2h0.70v0.70h-0.70zM243.7,60.9h0.70v0.70h-0.70zM247.9,49.7h0.70v0.70h-0.70zM261.8,58.0h0.70v0.70h-0.70zM242.3,48.4h0.70v0.70h-0.70zM250.6,46.1h0.70v0.70h-0.70zM243.1,45.6h0.70v0.70h-0.70zM255.5,38.5h0.70v0.70h-0.70z" fill="#cccccc"/>
<path d="M270.3,58.8h0.70v0.70h-0.70zM252.6,55.6h0.70v0.70h-0.70zM272.6,60.9h0.70v0.70h-0.70zM254.1,74.6h0.70v0.70h-0.70zM278.0,74.2h0.70v0.70h-0.70zM255.5,53.7h0.70v0.70h-0.70zM253.3,68.6h0.70v0.70h-0.70zM260.9,49.8h0.70v0.70h-0.70zM265.9,72.4h0.70v0.70h-0.70zM279.0,53.5h0.70v0.70h-0.70zM256.9,72.7h0.70v0.70h-0.70zM270.8,66.3h0.70v0.70h-0.70zM255.0,47.7h0.70v0.70h-0.70zM274.7,58.3h0.70v0.70h-0.70zM254.4,73.2h0.70v0.70h-0.70zM272.9,69.2h0.70v0.70h-0.70zM254.8,70.8h0.70v0.70h-0.70zM254.2,71.0h0.70v0.70h-0.70zM267.0,55.8h0.70v0.70h-0.70zM270.3,72.9h0.70v0.70h-0.70zM260.8,49.7h0.70v0.70h-0.70zM269.4,52.9h0.70v0.70h-0.70zM255.6,50.7h0.70v0.70h-0.70zM253.7,51.9h0.70v0.70h-0.70zM262.3,54.8h0.70v0.70h-0.70zM277.1,54.4h0.70v0.70h-0.70zM268.5,51.2h0.70v0.70h-0.70zM263.5,46.5h0.70v0.70h-0.70zM260.3,46.4h0.70v0.70h-0.70zM276.2,62.0h0.70v0.70h-0.70z" fill="#d2d2d2"/>
<g filter="url(#b0_45)" opacity="1">
<path d="M238.5,46.4 C243,45.8 250,45.5 254.8,46.8 C257.2,47.8 257.5,51.8 255,53.2 C252.5,54.2 251.5,55 251.2,57.5 C250.5,60.5 246,62 238.5,62 Z" fill="#e2e2e2" stroke="#8a8a8a" stroke-width="0.5" opacity="1"/>
<path d="M238.5,48.3 C244,47.8 250.5,48.8 251,52.8 C251.5,57 248,60.6 243,60.7 C240.5,60.7 239,60.3 238.5,60.1 Z" fill="#c4c4c4" stroke="#666" stroke-width="0.55" opacity="1"/>
<path d="M238.5,50.3 C243,49.8 248.6,50.8 248.9,54 C249.1,57 246,59.2 242.5,59.2 C240.5,59.2 239,58.7 238.5,58.5 Z" fill="#959595" stroke="#444" stroke-width="0.55" opacity="1"/>
<path d="M239.3,52.2 C242.5,51.9 246.4,52.7 246.5,54.8 C246.6,56.7 244.5,57.8 242.3,57.8 C240.8,57.8 239.7,57.4 239.3,57.2 Z" fill="#5e5e5e" stroke="#222" stroke-width="0.6" opacity="1"/>
<ellipse cx="242.60" cy="55.00" rx="2.60" ry="1.50" transform="rotate(8 242.60 55.00)" fill="#1e1e1e" stroke="none" stroke-width="0.5" opacity="1"/>
<path d="M248,75.5 C249,69 252.5,66 257.5,65.8 C263.5,65.6 268.5,66.5 272,69 C273.8,71 274,73.5 273.5,75.5" fill="#e4e4e4" stroke="#8a8a8a" stroke-width="0.55" opacity="1"/>
<path d="M250.8,75.5 C251.8,70.8 254.2,68.2 258,68 C262.5,67.8 266.5,68.8 269,70.8 C270.4,72.2 270.5,74 270.2,75.5" fill="#d6d6d6" stroke="#7a7a7a" stroke-width="0.5" opacity="1"/>
<ellipse cx="257.20" cy="70.80" rx="4.00" ry="1.90" transform="rotate(-8 257.20 70.80)" fill="#fafafa" stroke="#555" stroke-width="0.55" opacity="1"/>
<path d="M238.8,64 C241.5,63.5 244.5,65 245.5,67.5 C246.5,70 245,73 243.5,75.5" fill="none" stroke="#999" stroke-width="0.5" opacity="1"/>
<path d="M238.8,67 C240.5,66.5 242.5,68 242.8,70.5 C243,72.5 242,74 241.5,75.5" fill="none" stroke="#8a8a8a" stroke-width="0.5" opacity="1"/>
<path d="M264.5,68 C267.5,66.8 271.5,68.5 272.8,71.5 C273.3,73.5 272.5,75 272,75.5" fill="none" stroke="#666" stroke-width="0.6" opacity="1"/>
<path d="M266.5,70 C268.5,69.5 270.5,70.8 271,72.5 C271.3,74 270.8,75 270.5,75.5" fill="none" stroke="#666" stroke-width="0.55" opacity="1"/>
</g>
<rect x="238.00" y="44.40" width="14.50" height="17.90" fill="none" stroke="#505050" stroke-width="0.9" />
<line x1="238.50" y1="45.50" x2="238.50" y2="76.20" stroke="#0a0a0a" stroke-width="1.6" />
<line x1="238.00" y1="75.90" x2="268.50" y2="75.90" stroke="#0a0a0a" stroke-width="1.6" />
<text x="231.00" y="49.90" font-size="6.4" stroke="#1a1a1a" stroke-width="0.08" text-anchor="middle" textLength="13.60" lengthAdjust="spacingAndGlyphs" fill="#1a1a1a" transform="rotate(-90 231.00 49.90)">CD19</text>
<text x="263.90" y="87.40" font-size="6.0" stroke="#1a1a1a" stroke-width="0.08" text-anchor="middle" textLength="10.40" lengthAdjust="spacingAndGlyphs" fill="#1a1a1a">Gr-1</text>
<line x1="312.60" y1="22.80" x2="365.70" y2="22.80" stroke="#b5b5b5" stroke-width="0.9" />
<line x1="365.70" y1="22.80" x2="365.70" y2="76.30" stroke="#b5b5b5" stroke-width="0.9" />
<line x1="312.60" y1="22.80" x2="312.60" y2="76.30" stroke="#888" stroke-width="0.9" />
<line x1="312.60" y1="76.30" x2="365.70" y2="76.30" stroke="#888" stroke-width="0.9" />
<text x="307.90" y="24.20" font-size="3.0" stroke="#777" stroke-width="0.1" fill="#777" transform="rotate(-50 307.90 24.20)">10</text>
<text x="311.80" y="82.80" font-size="3.0" stroke="#777" stroke-width="0.1" fill="#777" transform="rotate(-50 311.80 82.80)">10</text>
<line x1="311.70" y1="22.80" x2="312.60" y2="22.80" stroke="#999" stroke-width="0.6" />
<line x1="312.60" y1="76.30" x2="312.60" y2="77.20" stroke="#999" stroke-width="0.6" />
<text x="307.90" y="37.57" font-size="3.0" stroke="#777" stroke-width="0.1" fill="#777" transform="rotate(-50 307.90 37.57)">10</text>
<text x="325.07" y="82.80" font-size="3.0" stroke="#777" stroke-width="0.1" fill="#777" transform="rotate(-50 325.07 82.80)">10</text>
<line x1="311.70" y1="36.17" x2="312.60" y2="36.17" stroke="#999" stroke-width="0.6" />
<line x1="325.88" y1="76.30" x2="325.88" y2="77.20" stroke="#999" stroke-width="0.6" />
<text x="307.90" y="50.95" font-size="3.0" stroke="#777" stroke-width="0.1" fill="#777" transform="rotate(-50 307.90 50.95)">10</text>
<text x="338.35" y="82.80" font-size="3.0" stroke="#777" stroke-width="0.1" fill="#777" transform="rotate(-50 338.35 82.80)">10</text>
<line x1="311.70" y1="49.55" x2="312.60" y2="49.55" stroke="#999" stroke-width="0.6" />
<line x1="339.15" y1="76.30" x2="339.15" y2="77.20" stroke="#999" stroke-width="0.6" />
<text x="307.90" y="64.32" font-size="3.0" stroke="#777" stroke-width="0.1" fill="#777" transform="rotate(-50 307.90 64.32)">10</text>
<text x="351.62" y="82.80" font-size="3.0" stroke="#777" stroke-width="0.1" fill="#777" transform="rotate(-50 351.62 82.80)">10</text>
<line x1="311.70" y1="62.92" x2="312.60" y2="62.92" stroke="#999" stroke-width="0.6" />
<line x1="352.43" y1="76.30" x2="352.43" y2="77.20" stroke="#999" stroke-width="0.6" />
<text x="307.90" y="77.70" font-size="3.0" stroke="#777" stroke-width="0.1" fill="#777" transform="rotate(-50 307.90 77.70)">10</text>
<text x="364.90" y="82.80" font-size="3.0" stroke="#777" stroke-width="0.1" fill="#777" transform="rotate(-50 364.90 82.80)">10</text>
<line x1="311.70" y1="76.30" x2="312.60" y2="76.30" stroke="#999" stroke-width="0.6" />
<line x1="365.70" y1="76.30" x2="365.70" y2="77.20" stroke="#999" stroke-width="0.6" />
<path d="M317.6,34.6h0.70v0.70h-0.70zM333.6,29.5h0.70v0.70h-0.70zM331.1,34.1h0.70v0.70h-0.70zM324.1,39.7h0.70v0.70h-0.70zM322.0,35.1h0.70v0.70h-0.70zM328.3,41.8h0.70v0.70h-0.70zM320.9,39.7h0.70v0.70h-0.70zM328.7,36.9h0.70v0.70h-0.70zM322.2,32.9h0.70v0.70h-0.70zM314.7,29.8h0.70v0.70h-0.70zM315.0,38.4h0.70v0.70h-0.70zM319.0,30.3h0.70v0.70h-0.70zM315.3,39.8h0.70v0.70h-0.70zM332.2,37.4h0.70v0.70h-0.70zM319.6,31.4h0.70v0.70h-0.70zM319.8,34.4h0.70v0.70h-0.70zM316.9,34.2h0.70v0.70h-0.70zM319.2,41.5h0.70v0.70h-0.70zM334.4,35.7h0.70v0.70h-0.70zM318.8,41.5h0.70v0.70h-0.70zM320.2,33.0h0.70v0.70h-0.70zM313.5,33.3h0.70v0.70h-0.70zM323.7,35.0h0.70v0.70h-0.70zM317.8,35.1h0.70v0.70h-0.70zM313.6,31.7h0.70v0.70h-0.70zM315.4,33.6h0.70v0.70h-0.70zM314.4,28.3h0.70v0.70h-0.70zM320.0,31.3h0.70v0.70h-0.70zM326.1,35.4h0.70v0.70h-0.70zM329.6,37.2h0.70v0.70h-0.70z" fill="#d4d4d4"/>
<path d="M339.6,71.0h0.70v0.70h-0.70zM327.7,52.8h0.70v0.70h-0.70zM349.4,46.9h0.70v0.70h-0.70zM339.9,63.2h0.70v0.70h-0.70zM315.1,69.6h0.70v0.70h-0.70zM346.1,62.7h0.70v0.70h-0.70zM340.3,68.8h0.70v0.70h-0.70zM318.6,59.3h0.70v0.70h-0.70zM331.9,69.6h0.70v0.70h-0.70zM342.9,69.3h0.70v0.70h-0.70zM334.8,71.5h0.70v0.70h-0.70zM338.4,64.9h0.70v0.70h-0.70zM321.9,43.0h0.70v0.70h-0.70zM318.4,53.9h0.70v0.70h-0.70zM317.3,69.6h0.70v0.70h-0.70zM333.9,62.7h0.70v0.70h-0.70zM336.4,64.5h0.70v0.70h-0.70zM331.4,42.1h0.70v0.70h-0.70zM342.6,66.7h0.70v0.70h-0.70zM331.9,59.7h0.70v0.70h-0.70zM337.6,44.2h0.70v0.70h-0.70zM340.4,50.3h0.70v0.70h-0.70zM316.2,50.8h0.70v0.70h-0.70zM340.1,48.8h0.70v0.70h-0.70zM340.5,74.2h0.70v0.70h-0.70zM331.5,54.6h0.70v0.70h-0.70zM331.0,64.6h0.70v0.70h-0.70zM341.5,62.4h0.70v0.70h-0.70zM337.0,44.6h0.70v0.70h-0.70zM318.9,50.4h0.70v0.70h-0.70zM340.6,52.0h0.70v0.70h-0.70zM334.2,42.4h0.70v0.70h-0.70zM315.7,50.9h0.70v0.70h-0.70zM338.0,64.8h0.70v0.70h-0.70zM338.2,51.6h0.70v0.70h-0.70zM332.4,57.3h0.70v0.70h-0.70zM330.5,45.9h0.70v0.70h-0.70zM346.1,48.6h0.70v0.70h-0.70zM349.2,72.9h0.70v0.70h-0.70zM314.1,57.1h0.70v0.70h-0.70zM343.4,73.9h0.70v0.70h-0.70zM329.9,50.9h0.70v0.70h-0.70zM321.2,73.2h0.70v0.70h-0.70zM321.2,61.2h0.70v0.70h-0.70zM318.7,59.3h0.70v0.70h-0.70zM348.3,46.4h0.70v0.70h-0.70zM343.4,58.8h0.70v0.70h-0.70zM345.9,65.2h0.70v0.70h-0.70zM321.9,71.6h0.70v0.70h-0.70zM331.2,42.8h0.70v0.70h-0.70zM313.6,58.2h0.70v0.70h-0.70zM330.0,52.0h0.70v0.70h-0.70zM318.6,53.4h0.70v0.70h-0.70zM325.0,69.7h0.70v0.70h-0.70zM313.6,66.8h0.70v0.70h-0.70zM344.1,46.0h0.70v0.70h-0.70zM347.3,65.5h0.70v0.70h-0.70zM346.4,51.6h0.70v0.70h-0.70zM327.1,55.0h0.70v0.70h-0.70zM350.0,61.4h0.70v0.70h-0.70zM326.7,56.1h0.70v0.70h-0.70zM323.5,43.6h0.70v0.70h-0.70zM317.2,69.5h0.70v0.70h-0.70zM323.9,72.9h0.70v0.70h-0.70zM322.6,50.8h0.70v0.70h-0.70zM332.2,48.3h0.70v0.70h-0.70zM327.1,73.6h0.70v0.70h-0.70zM345.8,68.8h0.70v0.70h-0.70zM336.5,72.1h0.70v0.70h-0.70zM347.8,60.1h0.70v0.70h-0.70zM339.8,43.6h0.70v0.70h-0.70zM340.2,56.9h0.70v0.70h-0.70zM341.0,63.3h0.70v0.70h-0.70zM323.9,43.6h0.70v0.70h-0.70zM347.3,46.2h0.70v0.70h-0.70zM330.7,53.3h0.70v0.70h-0.70zM324.4,66.4h0.70v0.70h-0.70zM349.1,50.6h0.70v0.70h-0.70zM337.4,51.9h0.70v0.70h-0.70zM333.8,55.0h0.70v0.70h-0.70zM319.6,47.3h0.70v0.70h-0.70zM321.1,71.9h0.70v0.70h-0.70zM331.6,49.3h0.70v0.70h-0.70zM346.6,74.9h0.70v0.70h-0.70zM329.9,46.6h0.70v0.70h-0.70zM320.5,45.0h0.70v0.70h-0.70zM326.0,45.0h0.70v0.70h-0.70zM322.2,50.5h0.70v0.70h-0.70zM334.3,71.3h0.70v0.70h-0.70zM340.9,55.6h0.70v0.70h-0.70zM328.6,59.3h0.70v0.70h-0.70zM327.3,53.2h0.70v0.70h-0.70zM315.8,51.2h0.70v0.70h-0.70zM348.8,46.2h0.70v0.70h-0.70zM331.9,62.8h0.70v0.70h-0.70zM345.0,49.1h0.70v0.70h-0.70zM323.4,50.2h0.70v0.70h-0.70zM328.1,56.7h0.70v0.70h-0.70zM348.3,70.0h0.70v0.70h-0.70zM345.4,42.7h0.70v0.70h-0.70zM314.7,65.4h0.70v0.70h-0.70zM346.2,57.6h0.70v0.70h-0.70zM334.9,42.0h0.70v0.70h-0.70zM327.8,72.6h0.70v0.70h-0.70zM343.6,70.2h0.70v0.70h-0.70zM349.0,50.2h0.70v0.70h-0.70zM317.5,47.1h0.70v0.70h-0.70zM332.6,64.5h0.70v0.70h-0.70zM347.9,65.8h0.70v0.70h-0.70zM337.1,67.2h0.70v0.70h-0.70z" fill="#c4c4c4"/>
<path d="M335.1,54.8h0.70v0.70h-0.70zM326.8,58.5h0.70v0.70h-0.70zM330.7,60.7h0.70v0.70h-0.70zM338.9,50.9h0.70v0.70h-0.70zM328.6,50.0h0.70v0.70h-0.70zM338.7,57.2h0.70v0.70h-0.70zM328.2,47.1h0.70v0.70h-0.70zM336.5,55.3h0.70v0.70h-0.70zM333.8,49.6h0.70v0.70h-0.70zM338.0,46.2h0.70v0.70h-0.70zM332.0,53.4h0.70v0.70h-0.70zM345.2,56.3h0.70v0.70h-0.70zM343.7,53.6h0.70v0.70h-0.70zM330.7,50.0h0.70v0.70h-0.70zM345.2,57.3h0.70v0.70h-0.70zM332.1,46.3h0.70v0.70h-0.70zM336.0,56.8h0.70v0.70h-0.70zM334.4,50.1h0.70v0.70h-0.70zM339.3,60.8h0.70v0.70h-0.70zM330.5,46.5h0.70v0.70h-0.70zM332.8,52.7h0.70v0.70h-0.70zM339.7,49.2h0.70v0.70h-0.70zM341.9,57.8h0.70v0.70h-0.70zM336.1,49.3h0.70v0.70h-0.70zM345.4,51.0h0.70v0.70h-0.70zM342.4,49.7h0.70v0.70h-0.70zM330.4,58.2h0.70v0.70h-0.70zM331.9,61.2h0.70v0.70h-0.70zM335.9,49.0h0.70v0.70h-0.70zM330.5,52.7h0.70v0.70h-0.70zM339.3,61.2h0.70v0.70h-0.70zM328.9,52.3h0.70v0.70h-0.70zM330.3,61.6h0.70v0.70h-0.70zM328.8,46.8h0.70v0.70h-0.70zM327.2,52.3h0.70v0.70h-0.70zM344.0,60.1h0.70v0.70h-0.70zM340.7,62.0h0.70v0.70h-0.70zM344.6,51.3h0.70v0.70h-0.70zM329.7,61.0h0.70v0.70h-0.70zM340.9,46.5h0.70v0.70h-0.70zM339.3,52.1h0.70v0.70h-0.70zM333.5,51.3h0.70v0.70h-0.70zM329.4,46.0h0.70v0.70h-0.70zM331.6,51.6h0.70v0.70h-0.70zM345.1,48.0h0.70v0.70h-0.70zM345.3,49.3h0.70v0.70h-0.70zM333.1,59.1h0.70v0.70h-0.70zM342.4,52.9h0.70v0.70h-0.70zM327.0,53.6h0.70v0.70h-0.70zM333.5,60.7h0.70v0.70h-0.70z" fill="#b4b4b4"/>
<g filter="url(#b0_45)" opacity="1">
<path d="M313.3,42.5 C317,42.3 322,42.6 323.5,45 C324.5,49 324.2,55 323,59 C321,60 316,60 313.3,60 Z" fill="#d6d6d6" stroke="#8a8a8a" stroke-width="0.5" opacity="1"/>
<path d="M313.8,44.5 C317,44.5 320.5,45 321.5,47.5 C322.3,51 322,55 321,57.5 C319,58.2 316,58.3 313.8,58.2 Z" fill="#c6c6c6" stroke="#7a7a7a" stroke-width="0.5" opacity="1"/>
<path d="M314.2,46.5 C316.5,46.6 319,47.2 319.5,49.5 C320,52 319.8,54.5 319,56 C317.5,56.5 315.8,56.5 314.2,56.3 Z" fill="#b6b6b6" stroke="#6a6a6a" stroke-width="0.5" opacity="1"/>
<path d="M314.6,49 C316,49 317.3,49.8 317.5,51.2 C317.7,52.6 317.3,53.8 316.5,54.5 C315.8,54.8 315,54.8 314.6,54.6 Z" fill="#a0a0a0" stroke="#5a5a5a" stroke-width="0.5" opacity="1"/>
<path d="M328,52 C330,48.5 336,48 340.5,49.5 C344,51 344.5,55 343,58.5 C341,61 335,61.5 331,60 C328.5,58.5 327,55 328,52 Z" fill="#e0e0e0" stroke="#a8a8a8" stroke-width="0.5" opacity="1"/>
<ellipse cx="337.00" cy="55.20" rx="4.80" ry="3.90" transform="rotate(15 337.00 55.20)" fill="#cfcfcf" stroke="#999" stroke-width="0.5" opacity="1"/>
<ellipse cx="337.40" cy="55.40" rx="3.00" ry="2.40" transform="rotate(15 337.40 55.40)" fill="#b8b8b8" stroke="#888" stroke-width="0.5" opacity="1"/>
<ellipse cx="337.80" cy="55.50" rx="1.40" ry="1.10" transform="rotate(15 337.80 55.50)" fill="#999" stroke="none" stroke-width="0.5" opacity="1"/>
<path d="M313.3,61.2 H324.5 C326.5,61.5 327.5,63.5 327.5,66.5 H336.5 V75.3 H313.3 Z" fill="none" stroke="#888" stroke-width="0.5" opacity="1"/>
<ellipse cx="320.60" cy="68.00" rx="7.20" ry="6.20" transform="rotate(0 320.60 68.00)" fill="#d8d8d8" stroke="#7a7a7a" stroke-width="0.5" opacity="1"/>
<ellipse cx="320.70" cy="68.10" rx="5.60" ry="4.80" transform="rotate(0 320.70 68.10)" fill="#cacaca" stroke="#6a6a6a" stroke-width="0.5" opacity="1"/>
<ellipse cx="320.80" cy="68.20" rx="4.00" ry="3.40" transform="rotate(0 320.80 68.20)" fill="#bcbcbc" stroke="#5a5a5a" stroke-width="0.5" opacity="1"/>
<ellipse cx="320.90" cy="68.30" rx="2.40" ry="2.00" transform="rotate(0 320.90 68.30)" fill="#d8d8d8" stroke="#555" stroke-width="0.5" opacity="1"/>
<ellipse cx="346.00" cy="71.00" rx="5.00" ry="4.30" transform="rotate(0 346.00 71.00)" fill="#d0d0d0" stroke="#7a7a7a" stroke-width="0.5" opacity="1"/>
<ellipse cx="346.00" cy="71.60" rx="3.60" ry="3.00" transform="rotate(0 346.00 71.60)" fill="#999" stroke="#555" stroke-width="0.55" opacity="1"/>
<ellipse cx="346.00" cy="72.10" rx="2.20" ry="1.90" transform="rotate(0 346.00 72.10)" fill="#555" stroke="#222" stroke-width="0.5" opacity="1"/>
<ellipse cx="346.00" cy="72.30" rx="0.90" ry="0.80" transform="rotate(0 346.00 72.30)" fill="#222" stroke="none" stroke-width="0.5" opacity="1"/>
</g>
<rect x="312.80" y="41.90" width="11.20" height="18.50" fill="none" stroke="#404040" stroke-width="0.9" />
<rect x="340.00" y="64.20" width="12.30" height="11.60" fill="none" stroke="#404040" stroke-width="0.9" />
<line x1="313.30" y1="41.50" x2="313.30" y2="76.20" stroke="#0a0a0a" stroke-width="1.7" />
<line x1="312.60" y1="76.00" x2="352.60" y2="76.00" stroke="#0a0a0a" stroke-width="1.7" />
<text x="304.70" y="50.20" font-size="6.4" stroke="#1a1a1a" stroke-width="0.08" text-anchor="middle" textLength="10.30" lengthAdjust="spacingAndGlyphs" fill="#1a1a1a" transform="rotate(-90 304.70 50.20)">CD3</text>
<text x="338.50" y="87.60" font-size="6.0" stroke="#1a1a1a" stroke-width="0.08" text-anchor="middle" textLength="14.50" lengthAdjust="spacingAndGlyphs" fill="#1a1a1a">NK1.1</text>
<line x1="388.30" y1="23.30" x2="442.00" y2="23.30" stroke="#b5b5b5" stroke-width="0.9" />
<line x1="442.00" y1="23.30" x2="442.00" y2="77.30" stroke="#b5b5b5" stroke-width="0.9" />
<line x1="388.30" y1="23.30" x2="388.30" y2="77.30" stroke="#a8a8a8" stroke-width="0.9" />
<line x1="388.30" y1="77.30" x2="442.00" y2="77.30" stroke="#999" stroke-width="0.9" />
<text x="383.60" y="24.70" font-size="3.0" stroke="#777" stroke-width="0.1" fill="#777" transform="rotate(-50 383.60 24.70)">10</text>
<text x="387.50" y="83.80" font-size="3.0" stroke="#777" stroke-width="0.1" fill="#777" transform="rotate(-50 387.50 83.80)">10</text>
<line x1="387.40" y1="23.30" x2="388.30" y2="23.30" stroke="#999" stroke-width="0.6" />
<line x1="388.30" y1="77.30" x2="388.30" y2="78.20" stroke="#999" stroke-width="0.6" />
<text x="383.60" y="38.20" font-size="3.0" stroke="#777" stroke-width="0.1" fill="#777" transform="rotate(-50 383.60 38.20)">10</text>
<text x="400.93" y="83.80" font-size="3.0" stroke="#777" stroke-width="0.1" fill="#777" transform="rotate(-50 400.93 83.80)">10</text>
<line x1="387.40" y1="36.80" x2="388.30" y2="36.80" stroke="#999" stroke-width="0.6" />
<line x1="401.73" y1="77.30" x2="401.73" y2="78.20" stroke="#999" stroke-width="0.6" />
<text x="383.60" y="51.70" font-size="3.0" stroke="#777" stroke-width="0.1" fill="#777" transform="rotate(-50 383.60 51.70)">10</text>
<text x="414.35" y="83.80" font-size="3.0" stroke="#777" stroke-width="0.1" fill="#777" transform="rotate(-50 414.35 83.80)">10</text>
<line x1="387.40" y1="50.30" x2="388.30" y2="50.30" stroke="#999" stroke-width="0.6" />
<line x1="415.15" y1="77.30" x2="415.15" y2="78.20" stroke="#999" stroke-width="0.6" />
<text x="383.60" y="65.20" font-size="3.0" stroke="#777" stroke-width="0.1" fill="#777" transform="rotate(-50 383.60 65.20)">10</text>
<text x="427.77" y="83.80" font-size="3.0" stroke="#777" stroke-width="0.1" fill="#777" transform="rotate(-50 427.77 83.80)">10</text>
<line x1="387.40" y1="63.80" x2="388.30" y2="63.80" stroke="#999" stroke-width="0.6" />
<line x1="428.57" y1="77.30" x2="428.57" y2="78.20" stroke="#999" stroke-width="0.6" />
<text x="383.60" y="78.70" font-size="3.0" stroke="#777" stroke-width="0.1" fill="#777" transform="rotate(-50 383.60 78.70)">10</text>
<text x="441.20" y="83.80" font-size="3.0" stroke="#777" stroke-width="0.1" fill="#777" transform="rotate(-50 441.20 83.80)">10</text>
<line x1="387.40" y1="77.30" x2="388.30" y2="77.30" stroke="#999" stroke-width="0.6" />
<line x1="442.00" y1="77.30" x2="442.00" y2="78.20" stroke="#999" stroke-width="0.6" />
<path d="M399.3,66.2h0.70v0.70h-0.70zM426.1,60.5h0.70v0.70h-0.70zM407.6,73.8h0.70v0.70h-0.70zM421.1,60.7h0.70v0.70h-0.70zM393.3,61.1h0.70v0.70h-0.70zM427.0,64.4h0.70v0.70h-0.70zM420.4,75.3h0.70v0.70h-0.70zM404.9,64.6h0.70v0.70h-0.70zM428.4,70.5h0.70v0.70h-0.70zM402.0,72.2h0.70v0.70h-0.70zM404.0,64.7h0.70v0.70h-0.70zM392.1,72.8h0.70v0.70h-0.70zM426.8,70.8h0.70v0.70h-0.70zM427.8,60.4h0.70v0.70h-0.70zM400.9,68.1h0.70v0.70h-0.70zM428.4,76.2h0.70v0.70h-0.70zM406.7,64.3h0.70v0.70h-0.70zM408.3,68.4h0.70v0.70h-0.70zM427.3,63.1h0.70v0.70h-0.70zM422.5,72.6h0.70v0.70h-0.70zM423.3,73.1h0.70v0.70h-0.70zM415.1,65.6h0.70v0.70h-0.70zM404.1,66.2h0.70v0.70h-0.70zM421.7,61.3h0.70v0.70h-0.70zM399.5,72.8h0.70v0.70h-0.70zM401.4,61.1h0.70v0.70h-0.70zM393.3,69.4h0.70v0.70h-0.70zM404.4,76.7h0.70v0.70h-0.70zM425.6,76.8h0.70v0.70h-0.70zM402.1,61.4h0.70v0.70h-0.70zM395.7,68.5h0.70v0.70h-0.70zM419.0,67.6h0.70v0.70h-0.70zM400.9,67.1h0.70v0.70h-0.70zM415.6,71.5h0.70v0.70h-0.70zM420.4,74.4h0.70v0.70h-0.70zM417.2,62.1h0.70v0.70h-0.70zM424.0,65.0h0.70v0.70h-0.70zM413.5,66.3h0.70v0.70h-0.70zM420.0,63.4h0.70v0.70h-0.70zM401.4,64.2h0.70v0.70h-0.70z" fill="#d0d0d0"/>
<g filter="url(#b0_45)" opacity="1">
<path d="M409.2,77 C409.5,71 413.5,63 418.2,62.2 C421.8,61.8 423.8,66 423.8,71.5 L423.6,77 Z" fill="#ececec" stroke="#555" stroke-width="0.6" opacity="1"/>
<path d="M411.5,77 C411.8,72 414.8,65 418.3,64.5 C421,64.2 422.6,67.5 422.6,71.5 L422.4,77 Z" fill="#cfcfcf" stroke="#666" stroke-width="0.5" opacity="1"/>
<path d="M413.3,77 C413.6,73 415.8,67.2 418.3,67 C420.5,66.8 421.6,69.5 421.6,72 L421.4,77 Z" fill="#9a9a9a" stroke="#444" stroke-width="0.5" opacity="1"/>
<ellipse cx="418.00" cy="71.80" rx="3.00" ry="3.40" transform="rotate(0 418.00 71.80)" fill="#1a1a1a" stroke="none" stroke-width="0.5" opacity="1"/>
<ellipse cx="418.10" cy="71.50" rx="0.90" ry="1.10" transform="rotate(0 418.10 71.50)" fill="#eee" stroke="none" stroke-width="0.5" opacity="1"/>
</g>
<line x1="412.50" y1="76.80" x2="423.00" y2="76.80" stroke="#111" stroke-width="1.2" />
<rect x="388.50" y="44.70" width="14.00" height="18.80" fill="none" stroke="#5a5a5a" stroke-width="0.9" />
<text x="382.00" y="49.90" font-size="6.4" stroke="#1a1a1a" stroke-width="0.08" text-anchor="middle" textLength="13.60" lengthAdjust="spacingAndGlyphs" fill="#1a1a1a" transform="rotate(-90 382.00 49.90)">CD19</text>
<text x="415.60" y="87.60" font-size="6.0" stroke="#1a1a1a" stroke-width="0.08" text-anchor="middle" textLength="10.40" lengthAdjust="spacingAndGlyphs" fill="#1a1a1a">Gr-1</text>
<line x1="462.60" y1="22.80" x2="516.50" y2="22.80" stroke="#b5b5b5" stroke-width="0.9" />
<line x1="516.50" y1="22.80" x2="516.50" y2="77.30" stroke="#b5b5b5" stroke-width="0.9" />
<line x1="462.60" y1="22.80" x2="462.60" y2="77.30" stroke="#888" stroke-width="0.9" />
<line x1="462.60" y1="77.30" x2="516.50" y2="77.30" stroke="#999" stroke-width="0.9" />
<text x="457.90" y="24.20" font-size="3.0" stroke="#777" stroke-width="0.1" fill="#777" transform="rotate(-50 457.90 24.20)">10</text>
<text x="461.80" y="83.80" font-size="3.0" stroke="#777" stroke-width="0.1" fill="#777" transform="rotate(-50 461.80 83.80)">10</text>
<line x1="461.70" y1="22.80" x2="462.60" y2="22.80" stroke="#999" stroke-width="0.6" />
<line x1="462.60" y1="77.30" x2="462.60" y2="78.20" stroke="#999" stroke-width="0.6" />
<text x="457.90" y="37.82" font-size="3.0" stroke="#777" stroke-width="0.1" fill="#777" transform="rotate(-50 457.90 37.82)">10</text>
<text x="475.28" y="83.80" font-size="3.0" stroke="#777" stroke-width="0.1" fill="#777" transform="rotate(-50 475.28 83.80)">10</text>
<line x1="461.70" y1="36.42" x2="462.60" y2="36.42" stroke="#999" stroke-width="0.6" />
<line x1="476.08" y1="77.30" x2="476.08" y2="78.20" stroke="#999" stroke-width="0.6" />
<text x="457.90" y="51.45" font-size="3.0" stroke="#777" stroke-width="0.1" fill="#777" transform="rotate(-50 457.90 51.45)">10</text>
<text x="488.75" y="83.80" font-size="3.0" stroke="#777" stroke-width="0.1" fill="#777" transform="rotate(-50 488.75 83.80)">10</text>
<line x1="461.70" y1="50.05" x2="462.60" y2="50.05" stroke="#999" stroke-width="0.6" />
<line x1="489.55" y1="77.30" x2="489.55" y2="78.20" stroke="#999" stroke-width="0.6" />
<text x="457.90" y="65.07" font-size="3.0" stroke="#777" stroke-width="0.1" fill="#777" transform="rotate(-50 457.90 65.07)">10</text>
<text x="502.22" y="83.80" font-size="3.0" stroke="#777" stroke-width="0.1" fill="#777" transform="rotate(-50 502.22 83.80)">10</text>
<line x1="461.70" y1="63.67" x2="462.60" y2="63.67" stroke="#999" stroke-width="0.6" />
<line x1="503.02" y1="77.30" x2="503.02" y2="78.20" stroke="#999" stroke-width="0.6" />
<text x="457.90" y="78.70" font-size="3.0" stroke="#777" stroke-width="0.1" fill="#777" transform="rotate(-50 457.90 78.70)">10</text>
<text x="515.70" y="83.80" font-size="3.0" stroke="#777" stroke-width="0.1" fill="#777" transform="rotate(-50 515.70 83.80)">10</text>
<line x1="461.70" y1="77.30" x2="462.60" y2="77.30" stroke="#999" stroke-width="0.6" />
<line x1="516.50" y1="77.30" x2="516.50" y2="78.20" stroke="#999" stroke-width="0.6" />
<path d="M469.1,74.8h0.70v0.70h-0.70zM484.6,64.2h0.70v0.70h-0.70zM478.0,76.9h0.70v0.70h-0.70zM482.0,62.4h0.70v0.70h-0.70zM493.0,70.4h0.70v0.70h-0.70zM499.7,59.9h0.70v0.70h-0.70zM480.8,73.6h0.70v0.70h-0.70zM494.2,75.4h0.70v0.70h-0.70zM465.0,63.6h0.70v0.70h-0.70zM467.9,61.6h0.70v0.70h-0.70zM499.0,69.1h0.70v0.70h-0.70zM497.5,65.1h0.70v0.70h-0.70zM495.1,66.5h0.70v0.70h-0.70zM473.0,72.8h0.70v0.70h-0.70zM498.0,60.0h0.70v0.70h-0.70zM485.3,69.8h0.70v0.70h-0.70zM471.4,65.0h0.70v0.70h-0.70zM468.7,61.9h0.70v0.70h-0.70zM472.8,69.4h0.70v0.70h-0.70zM487.3,61.9h0.70v0.70h-0.70zM463.9,64.2h0.70v0.70h-0.70zM488.3,61.5h0.70v0.70h-0.70zM474.9,61.9h0.70v0.70h-0.70zM492.5,68.4h0.70v0.70h-0.70zM465.8,59.9h0.70v0.70h-0.70zM477.9,68.5h0.70v0.70h-0.70zM486.8,59.7h0.70v0.70h-0.70zM469.5,71.2h0.70v0.70h-0.70zM478.5,63.4h0.70v0.70h-0.70zM474.7,76.1h0.70v0.70h-0.70zM474.9,68.8h0.70v0.70h-0.70zM476.5,65.9h0.70v0.70h-0.70zM495.0,76.9h0.70v0.70h-0.70zM476.8,61.7h0.70v0.70h-0.70zM490.1,61.9h0.70v0.70h-0.70zM463.7,75.1h0.70v0.70h-0.70zM479.0,73.6h0.70v0.70h-0.70zM478.3,74.8h0.70v0.70h-0.70zM480.3,61.1h0.70v0.70h-0.70zM464.0,68.5h0.70v0.70h-0.70zM486.9,75.3h0.70v0.70h-0.70zM466.7,69.8h0.70v0.70h-0.70zM477.0,67.6h0.70v0.70h-0.70zM468.8,63.4h0.70v0.70h-0.70zM482.5,75.6h0.70v0.70h-0.70zM467.5,67.3h0.70v0.70h-0.70zM492.9,76.4h0.70v0.70h-0.70zM470.7,60.4h0.70v0.70h-0.70zM497.9,76.5h0.70v0.70h-0.70zM481.1,59.0h0.70v0.70h-0.70z" fill="#c8c8c8"/>
<g filter="url(#b0_45)" opacity="1">
<path d="M463.3,77 L463.3,66.5 L482.8,59.8 L475.5,77 Z" fill="#dadada" stroke="#8a8a8a" stroke-width="0.55" opacity="1"/>
<path d="M463.3,77 L463.6,67.8 L480.2,61.8 L474,77 Z" fill="#c4c4c4" stroke="#7a7a7a" stroke-width="0.5" opacity="1"/>
<path d="M463.5,77 L464,69 L477.5,64 L472.5,77 Z" fill="#b0b0b0" stroke="#6a6a6a" stroke-width="0.5" opacity="1"/>
<path d="M463.7,77 L464.3,70.5 L474.5,66.5 L471.2,76.5 Z" fill="#999" stroke="#555" stroke-width="0.5" opacity="1"/>
<ellipse cx="471.30" cy="71.20" rx="1.30" ry="1.00" transform="rotate(-30 471.30 71.20)" fill="#e8e8e8" stroke="none" stroke-width="0.5" opacity="1"/>
<path d="M463.4,77 L463.4,70 C465,71 466.5,74 468,77 Z" fill="#222" stroke="none" stroke-width="0.5" opacity="1"/>
</g>
<line x1="463.30" y1="66.00" x2="463.30" y2="77.50" stroke="#0a0a0a" stroke-width="1.6" />
<line x1="463.00" y1="76.80" x2="476.00" y2="76.80" stroke="#0a0a0a" stroke-width="1.5" />
<rect x="462.80" y="42.20" width="12.10" height="18.20" fill="none" stroke="#404040" stroke-width="0.9" />
<rect x="489.30" y="65.20" width="13.80" height="12.10" fill="none" stroke="#404040" stroke-width="0.9" />
<text x="456.00" y="50.20" font-size="6.4" stroke="#1a1a1a" stroke-width="0.08" text-anchor="middle" textLength="10.30" lengthAdjust="spacingAndGlyphs" fill="#1a1a1a" transform="rotate(-90 456.00 50.20)">CD3</text>
<text x="487.00" y="87.60" font-size="6.0" stroke="#1a1a1a" stroke-width="0.08" text-anchor="middle" textLength="14.50" lengthAdjust="spacingAndGlyphs" fill="#1a1a1a">NK1.1</text>
<line x1="237.40" y1="127.30" x2="291.00" y2="127.30" stroke="#bdbdbd" stroke-width="0.95" />
<line x1="291.00" y1="127.30" x2="291.00" y2="182.00" stroke="#bdbdbd" stroke-width="0.95" />
<line x1="237.40" y1="182.00" x2="291.00" y2="182.00" stroke="#bdbdbd" stroke-width="0.95" />
<line x1="237.40" y1="127.30" x2="237.40" y2="182.00" stroke="#8a8a8a" stroke-width="0.85" />
<line x1="252.60" y1="127.30" x2="252.60" y2="182.00" stroke="#bdbdbd" stroke-width="0.95" />
<line x1="237.40" y1="158.50" x2="291.00" y2="158.50" stroke="#bdbdbd" stroke-width="0.95" />
<text x="233.90" y="127.30" font-size="3.0" stroke="#777" stroke-width="0.1" fill="#777" transform="rotate(-50 233.90 127.30)">10</text>
<text x="237.60" y="186.90" font-size="3.0" stroke="#777" stroke-width="0.1" fill="#777" transform="rotate(-50 237.60 186.90)">10</text>
<line x1="236.50" y1="127.30" x2="237.40" y2="127.30" stroke="#999" stroke-width="0.6" />
<line x1="237.40" y1="182.00" x2="237.40" y2="182.90" stroke="#999" stroke-width="0.6" />
<text x="233.90" y="140.97" font-size="3.0" stroke="#777" stroke-width="0.1" fill="#777" transform="rotate(-50 233.90 140.97)">10</text>
<text x="251.00" y="186.90" font-size="3.0" stroke="#777" stroke-width="0.1" fill="#777" transform="rotate(-50 251.00 186.90)">10</text>
<line x1="236.50" y1="140.97" x2="237.40" y2="140.97" stroke="#999" stroke-width="0.6" />
<line x1="250.80" y1="182.00" x2="250.80" y2="182.90" stroke="#999" stroke-width="0.6" />
<text x="233.90" y="154.65" font-size="3.0" stroke="#777" stroke-width="0.1" fill="#777" transform="rotate(-50 233.90 154.65)">10</text>
<text x="264.40" y="186.90" font-size="3.0" stroke="#777" stroke-width="0.1" fill="#777" transform="rotate(-50 264.40 186.90)">10</text>
<line x1="236.50" y1="154.65" x2="237.40" y2="154.65" stroke="#999" stroke-width="0.6" />
<line x1="264.20" y1="182.00" x2="264.20" y2="182.90" stroke="#999" stroke-width="0.6" />
<text x="233.90" y="168.32" font-size="3.0" stroke="#777" stroke-width="0.1" fill="#777" transform="rotate(-50 233.90 168.32)">10</text>
<text x="277.80" y="186.90" font-size="3.0" stroke="#777" stroke-width="0.1" fill="#777" transform="rotate(-50 277.80 186.90)">10</text>
<line x1="236.50" y1="168.32" x2="237.40" y2="168.32" stroke="#999" stroke-width="0.6" />
<line x1="277.60" y1="182.00" x2="277.60" y2="182.90" stroke="#999" stroke-width="0.6" />
<text x="233.90" y="182.00" font-size="3.0" stroke="#777" stroke-width="0.1" fill="#777" transform="rotate(-50 233.90 182.00)">10</text>
<text x="291.20" y="186.90" font-size="3.0" stroke="#777" stroke-width="0.1" fill="#777" transform="rotate(-50 291.20 186.90)">10</text>
<line x1="236.50" y1="182.00" x2="237.40" y2="182.00" stroke="#999" stroke-width="0.6" />
<line x1="291.00" y1="182.00" x2="291.00" y2="182.90" stroke="#999" stroke-width="0.6" />
<text x="246.90" y="125.30" font-size="6.8" stroke="#1a1a1a" stroke-width="0.1" textLength="35.90" lengthAdjust="spacingAndGlyphs" fill="#1a1a1a">C57BL/6-RG</text>
<text x="238.40" y="132.10" font-size="4.7" stroke="#333" stroke-width="0.06" textLength="8.50" lengthAdjust="spacingAndGlyphs" fill="#333">99.9</text>
<text x="278.10" y="132.10" font-size="4.7" stroke="#333" stroke-width="0.06" textLength="12.10" lengthAdjust="spacingAndGlyphs" fill="#333">0.0751</text>
<g filter="url(#b1_0)" opacity="1">
<ellipse cx="245.60" cy="148.80" rx="7.60" ry="7.20" transform="rotate(0 245.60 148.80)" fill="#bdbdbd" stroke="none" stroke-width="0.5" opacity="1"/>
</g>
<g filter="url(#b0_6)" opacity="1">
<ellipse cx="244.60" cy="147.60" rx="5.80" ry="5.00" transform="rotate(0 244.60 147.60)" fill="#858585" stroke="none" stroke-width="0.5" opacity="1"/>
</g>
<g filter="url(#b0_45)" opacity="1">
<ellipse cx="244.50" cy="147.40" rx="3.80" ry="3.00" transform="rotate(0 244.50 147.40)" fill="#666" stroke="#0a0a0a" stroke-width="1.5" opacity="1"/>
<ellipse cx="245.00" cy="147.30" rx="1.90" ry="0.55" transform="rotate(0 245.00 147.30)" fill="#cfcfcf" stroke="none" stroke-width="0.5" opacity="1"/>
<ellipse cx="238.60" cy="147.80" rx="1.30" ry="5.20" transform="rotate(0 238.60 147.80)" fill="#000" stroke="none" stroke-width="0.5" opacity="1"/>
</g>
<text x="230.10" y="155.60" font-size="5.4" stroke="#1a1a1a" stroke-width="0.08" text-anchor="middle" fill="#1a1a1a" transform="rotate(-90 230.10 155.60)">SIRPA</text>
<text x="264.60" y="192.20" font-size="6.0" stroke="#1a1a1a" stroke-width="0.08" text-anchor="middle" textLength="24.50" lengthAdjust="spacingAndGlyphs" fill="#1a1a1a">hCD47-Fc</text>
<line x1="314.40" y1="127.30" x2="368.00" y2="127.30" stroke="#bdbdbd" stroke-width="0.95" />
<line x1="368.00" y1="127.30" x2="368.00" y2="182.00" stroke="#bdbdbd" stroke-width="0.95" />
<line x1="314.40" y1="182.00" x2="368.00" y2="182.00" stroke="#bdbdbd" stroke-width="0.95" />
<line x1="314.40" y1="127.30" x2="314.40" y2="182.00" stroke="#8a8a8a" stroke-width="0.85" />
<line x1="328.90" y1="127.30" x2="328.90" y2="182.00" stroke="#bdbdbd" stroke-width="0.95" />
<line x1="314.40" y1="158.40" x2="368.00" y2="158.40" stroke="#bdbdbd" stroke-width="0.95" />
<text x="310.90" y="127.30" font-size="3.0" stroke="#777" stroke-width="0.1" fill="#777" transform="rotate(-50 310.90 127.30)">10</text>
<text x="314.60" y="186.90" font-size="3.0" stroke="#777" stroke-width="0.1" fill="#777" transform="rotate(-50 314.60 186.90)">10</text>
<line x1="313.50" y1="127.30" x2="314.40" y2="127.30" stroke="#999" stroke-width="0.6" />
<line x1="314.40" y1="182.00" x2="314.40" y2="182.90" stroke="#999" stroke-width="0.6" />
<text x="310.90" y="140.97" font-size="3.0" stroke="#777" stroke-width="0.1" fill="#777" transform="rotate(-50 310.90 140.97)">10</text>
<text x="328.00" y="186.90" font-size="3.0" stroke="#777" stroke-width="0.1" fill="#777" transform="rotate(-50 328.00 186.90)">10</text>
<line x1="313.50" y1="140.97" x2="314.40" y2="140.97" stroke="#999" stroke-width="0.6" />
<line x1="327.80" y1="182.00" x2="327.80" y2="182.90" stroke="#999" stroke-width="0.6" />
<text x="310.90" y="154.65" font-size="3.0" stroke="#777" stroke-width="0.1" fill="#777" transform="rotate(-50 310.90 154.65)">10</text>
<text x="341.40" y="186.90" font-size="3.0" stroke="#777" stroke-width="0.1" fill="#777" transform="rotate(-50 341.40 186.90)">10</text>
<line x1="313.50" y1="154.65" x2="314.40" y2="154.65" stroke="#999" stroke-width="0.6" />
<line x1="341.20" y1="182.00" x2="341.20" y2="182.90" stroke="#999" stroke-width="0.6" />
<text x="310.90" y="168.32" font-size="3.0" stroke="#777" stroke-width="0.1" fill="#777" transform="rotate(-50 310.90 168.32)">10</text>
<text x="354.80" y="186.90" font-size="3.0" stroke="#777" stroke-width="0.1" fill="#777" transform="rotate(-50 354.80 186.90)">10</text>
<line x1="313.50" y1="168.32" x2="314.40" y2="168.32" stroke="#999" stroke-width="0.6" />
<line x1="354.60" y1="182.00" x2="354.60" y2="182.90" stroke="#999" stroke-width="0.6" />
<text x="310.90" y="182.00" font-size="3.0" stroke="#777" stroke-width="0.1" fill="#777" transform="rotate(-50 310.90 182.00)">10</text>
<text x="368.20" y="186.90" font-size="3.0" stroke="#777" stroke-width="0.1" fill="#777" transform="rotate(-50 368.20 186.90)">10</text>
<line x1="313.50" y1="182.00" x2="314.40" y2="182.00" stroke="#999" stroke-width="0.6" />
<line x1="368.00" y1="182.00" x2="368.00" y2="182.90" stroke="#999" stroke-width="0.6" />
<text x="341.50" y="125.30" font-size="6.8" stroke="#1a1a1a" stroke-width="0.1" text-anchor="middle" textLength="25.20" lengthAdjust="spacingAndGlyphs" fill="#1a1a1a">NOD-RG</text>
<text x="314.80" y="132.10" font-size="4.7" stroke="#333" stroke-width="0.06" textLength="12.00" lengthAdjust="spacingAndGlyphs" fill="#333">0.566</text>
<text x="359.90" y="132.10" font-size="4.7" stroke="#333" stroke-width="0.06" textLength="7.50" lengthAdjust="spacingAndGlyphs" fill="#333">99.4</text>
<g filter="url(#b0_9)" opacity="1">
<ellipse cx="336.30" cy="145.30" rx="12.00" ry="5.60" transform="rotate(-50 336.30 145.30)" fill="#bdbdbd" stroke="none" stroke-width="0.5" opacity="1"/>
</g>
<g filter="url(#b0_6)" opacity="1">
<ellipse cx="337.40" cy="145.00" rx="9.60" ry="4.30" transform="rotate(-50 337.40 145.00)" fill="#7a7a7a" stroke="none" stroke-width="0.5" opacity="1"/>
</g>
<g filter="url(#b0_4)" opacity="1">
<ellipse cx="338.00" cy="144.90" rx="6.60" ry="2.50" transform="rotate(-50 338.00 144.90)" fill="#555" stroke="#0a0a0a" stroke-width="1.5" opacity="1"/>
<ellipse cx="338.20" cy="144.70" rx="3.40" ry="0.45" transform="rotate(-50 338.20 144.70)" fill="#bbb" stroke="none" stroke-width="0.5" opacity="1"/>
</g>
<text x="307.80" y="155.60" font-size="5.4" stroke="#1a1a1a" stroke-width="0.08" text-anchor="middle" fill="#1a1a1a" transform="rotate(-90 307.80 155.60)">SIRPA</text>
<text x="341.80" y="192.20" font-size="6.0" stroke="#1a1a1a" stroke-width="0.08" text-anchor="middle" textLength="24.50" lengthAdjust="spacingAndGlyphs" fill="#1a1a1a">hCD47-Fc</text>
<line x1="237.80" y1="211.60" x2="291.00" y2="211.60" stroke="#bdbdbd" stroke-width="0.95" />
<line x1="291.00" y1="211.60" x2="291.00" y2="265.50" stroke="#bdbdbd" stroke-width="0.95" />
<line x1="237.80" y1="265.50" x2="291.00" y2="265.50" stroke="#bdbdbd" stroke-width="0.95" />
<line x1="237.80" y1="211.60" x2="237.80" y2="265.50" stroke="#8a8a8a" stroke-width="0.85" />
<line x1="252.20" y1="211.60" x2="252.20" y2="265.50" stroke="#bdbdbd" stroke-width="0.95" />
<line x1="237.80" y1="242.90" x2="291.00" y2="242.90" stroke="#bdbdbd" stroke-width="0.95" />
<text x="234.30" y="211.60" font-size="3.0" stroke="#777" stroke-width="0.1" fill="#777" transform="rotate(-50 234.30 211.60)">10</text>
<text x="238.00" y="270.40" font-size="3.0" stroke="#777" stroke-width="0.1" fill="#777" transform="rotate(-50 238.00 270.40)">10</text>
<line x1="236.90" y1="211.60" x2="237.80" y2="211.60" stroke="#999" stroke-width="0.6" />
<line x1="237.80" y1="265.50" x2="237.80" y2="266.40" stroke="#999" stroke-width="0.6" />
<text x="234.30" y="225.07" font-size="3.0" stroke="#777" stroke-width="0.1" fill="#777" transform="rotate(-50 234.30 225.07)">10</text>
<text x="251.30" y="270.40" font-size="3.0" stroke="#777" stroke-width="0.1" fill="#777" transform="rotate(-50 251.30 270.40)">10</text>
<line x1="236.90" y1="225.07" x2="237.80" y2="225.07" stroke="#999" stroke-width="0.6" />
<line x1="251.10" y1="265.50" x2="251.10" y2="266.40" stroke="#999" stroke-width="0.6" />
<text x="234.30" y="238.55" font-size="3.0" stroke="#777" stroke-width="0.1" fill="#777" transform="rotate(-50 234.30 238.55)">10</text>
<text x="264.60" y="270.40" font-size="3.0" stroke="#777" stroke-width="0.1" fill="#777" transform="rotate(-50 264.60 270.40)">10</text>
<line x1="236.90" y1="238.55" x2="237.80" y2="238.55" stroke="#999" stroke-width="0.6" />
<line x1="264.40" y1="265.50" x2="264.40" y2="266.40" stroke="#999" stroke-width="0.6" />
<text x="234.30" y="252.03" font-size="3.0" stroke="#777" stroke-width="0.1" fill="#777" transform="rotate(-50 234.30 252.03)">10</text>
<text x="277.90" y="270.40" font-size="3.0" stroke="#777" stroke-width="0.1" fill="#777" transform="rotate(-50 277.90 270.40)">10</text>
<line x1="236.90" y1="252.03" x2="237.80" y2="252.03" stroke="#999" stroke-width="0.6" />
<line x1="277.70" y1="265.50" x2="277.70" y2="266.40" stroke="#999" stroke-width="0.6" />
<text x="234.30" y="265.50" font-size="3.0" stroke="#777" stroke-width="0.1" fill="#777" transform="rotate(-50 234.30 265.50)">10</text>
<text x="291.20" y="270.40" font-size="3.0" stroke="#777" stroke-width="0.1" fill="#777" transform="rotate(-50 291.20 270.40)">10</text>
<line x1="236.90" y1="265.50" x2="237.80" y2="265.50" stroke="#999" stroke-width="0.6" />
<line x1="291.00" y1="265.50" x2="291.00" y2="266.40" stroke="#999" stroke-width="0.6" />
<text x="264.50" y="208.80" font-size="6.8" stroke="#1a1a1a" stroke-width="0.1" text-anchor="middle" textLength="15.60" lengthAdjust="spacingAndGlyphs" fill="#1a1a1a">BRGS</text>
<text x="237.90" y="217.00" font-size="4.7" stroke="#333" stroke-width="0.06" textLength="14.20" lengthAdjust="spacingAndGlyphs" fill="#333">0.0552</text>
<text x="282.10" y="217.00" font-size="4.7" stroke="#333" stroke-width="0.06" textLength="8.10" lengthAdjust="spacingAndGlyphs" fill="#333">99.9</text>
<g filter="url(#b0_9)" opacity="1">
<ellipse cx="263.30" cy="228.50" rx="10.00" ry="5.60" transform="rotate(-48 263.30 228.50)" fill="#c4c4c4" stroke="none" stroke-width="0.5" opacity="1"/>
</g>
<g filter="url(#b0_6)" opacity="1">
<ellipse cx="263.60" cy="228.20" rx="7.60" ry="4.30" transform="rotate(-48 263.60 228.20)" fill="#888" stroke="none" stroke-width="0.5" opacity="1"/>
</g>
<g filter="url(#b0_4)" opacity="1">
<ellipse cx="263.70" cy="228.10" rx="4.90" ry="2.70" transform="rotate(-48 263.70 228.10)" fill="#444" stroke="#0a0a0a" stroke-width="1.5" opacity="1"/>
<ellipse cx="263.80" cy="228.00" rx="1.50" ry="0.70" transform="rotate(-48 263.80 228.00)" fill="#c8c8c8" stroke="none" stroke-width="0.5" opacity="1"/>
</g>
<text x="230.10" y="236.50" font-size="5.4" stroke="#1a1a1a" stroke-width="0.08" text-anchor="middle" fill="#1a1a1a" transform="rotate(-90 230.10 236.50)">SIRPA</text>
<text x="264.00" y="276.30" font-size="6.0" stroke="#1a1a1a" stroke-width="0.08" text-anchor="middle" textLength="24.50" lengthAdjust="spacingAndGlyphs" fill="#1a1a1a">hCD47-Fc</text>
<line x1="401.50" y1="121.60" x2="401.50" y2="227.90" stroke="#222" stroke-width="0.95" />
<line x1="401.50" y1="227.40" x2="480.80" y2="227.40" stroke="#222" stroke-width="0.95" />
<line x1="399.80" y1="122.10" x2="401.50" y2="122.10" stroke="#333" stroke-width="0.85" />
<text x="399.50" y="123.70" font-size="4.5" stroke="#2a2a2a" stroke-width="0.08" text-anchor="end" fill="#2a2a2a">80</text>
<line x1="399.80" y1="148.30" x2="401.50" y2="148.30" stroke="#333" stroke-width="0.85" />
<text x="399.50" y="149.90" font-size="4.5" stroke="#2a2a2a" stroke-width="0.08" text-anchor="end" fill="#2a2a2a">60</text>
<line x1="399.80" y1="174.40" x2="401.50" y2="174.40" stroke="#333" stroke-width="0.85" />
<text x="399.50" y="176.00" font-size="4.5" stroke="#2a2a2a" stroke-width="0.08" text-anchor="end" fill="#2a2a2a">40</text>
<line x1="399.80" y1="200.60" x2="401.50" y2="200.60" stroke="#333" stroke-width="0.85" />
<text x="399.50" y="202.20" font-size="4.5" stroke="#2a2a2a" stroke-width="0.08" text-anchor="end" fill="#2a2a2a">20</text>
<line x1="399.80" y1="226.60" x2="401.50" y2="226.60" stroke="#333" stroke-width="0.85" />
<text x="399.50" y="228.20" font-size="4.5" stroke="#2a2a2a" stroke-width="0.08" text-anchor="end" fill="#2a2a2a">0</text>
<line x1="401.50" y1="227.40" x2="401.50" y2="230.40" stroke="#222" stroke-width="0.85" />
<line x1="428.00" y1="227.40" x2="428.00" y2="230.40" stroke="#222" stroke-width="0.85" />
<line x1="454.40" y1="227.40" x2="454.40" y2="230.40" stroke="#222" stroke-width="0.85" />
<line x1="480.50" y1="227.40" x2="480.50" y2="230.40" stroke="#222" stroke-width="0.85" />
<rect x="410.10" y="143.70" width="9.80" height="83.50" fill="#0d0d0d" stroke="none" stroke-width="1" />
<rect x="436.30" y="214.00" width="9.70" height="13.20" fill="#0d0d0d" stroke="none" stroke-width="1" />
<rect x="462.30" y="211.50" width="10.40" height="15.70" fill="#0d0d0d" stroke="none" stroke-width="1" />
<line x1="414.90" y1="134.50" x2="414.90" y2="143.70" stroke="#333" stroke-width="0.85" />
<line x1="441.20" y1="212.00" x2="441.20" y2="214.00" stroke="#333" stroke-width="0.85" />
<line x1="467.50" y1="206.70" x2="467.50" y2="211.50" stroke="#333" stroke-width="0.85" />
<text x="399.10" y="236.60" font-size="6.1" stroke="#1a1a1a" stroke-width="0.12" textLength="30.00" lengthAdjust="spacingAndGlyphs" fill="#1a1a1a">C57BL/6-RG</text>
<text x="435.30" y="236.60" font-size="6.1" stroke="#1a1a1a" stroke-width="0.12" textLength="11.20" lengthAdjust="spacingAndGlyphs" fill="#1a1a1a">BRGS</text>
<text x="457.00" y="236.60" font-size="6.1" stroke="#1a1a1a" stroke-width="0.12" textLength="21.00" lengthAdjust="spacingAndGlyphs" fill="#1a1a1a">NOD-RG</text>
<text x="391.00" y="174.30" font-size="6.0" stroke="#1a1a1a" stroke-width="0.08" text-anchor="middle" textLength="43.40" lengthAdjust="spacingAndGlyphs" fill="#1a1a1a" transform="rotate(-90 391.00 174.30)">Phagocytic index</text>
<text x="416.30" y="128.20" font-size="7.2" stroke="#1a1a1a" stroke-width="0.08" textLength="7.60" lengthAdjust="spacingAndGlyphs" fill="#1a1a1a">***</text>
<text x="424.00" y="127.30" font-size="6.0" stroke="#1a1a1a" stroke-width="0.08" textLength="20.60" lengthAdjust="spacingAndGlyphs" fill="#1a1a1a">p&lt;0.001</text>
<path d="M414.5,132.2 V129.7 H453.5 V132.2" fill="none" stroke="#333" stroke-width="0.85" opacity="1"/>
<path d="M440.6,135.1 V132.2 H467.5 V135.1" fill="none" stroke="#333" stroke-width="0.85" opacity="1"/>
<text x="449.40" y="138.90" font-size="5.6" stroke="#333" stroke-width="0.06" textLength="10.10" lengthAdjust="spacingAndGlyphs" fill="#333">n.s.</text>
</svg>
</body></html>
